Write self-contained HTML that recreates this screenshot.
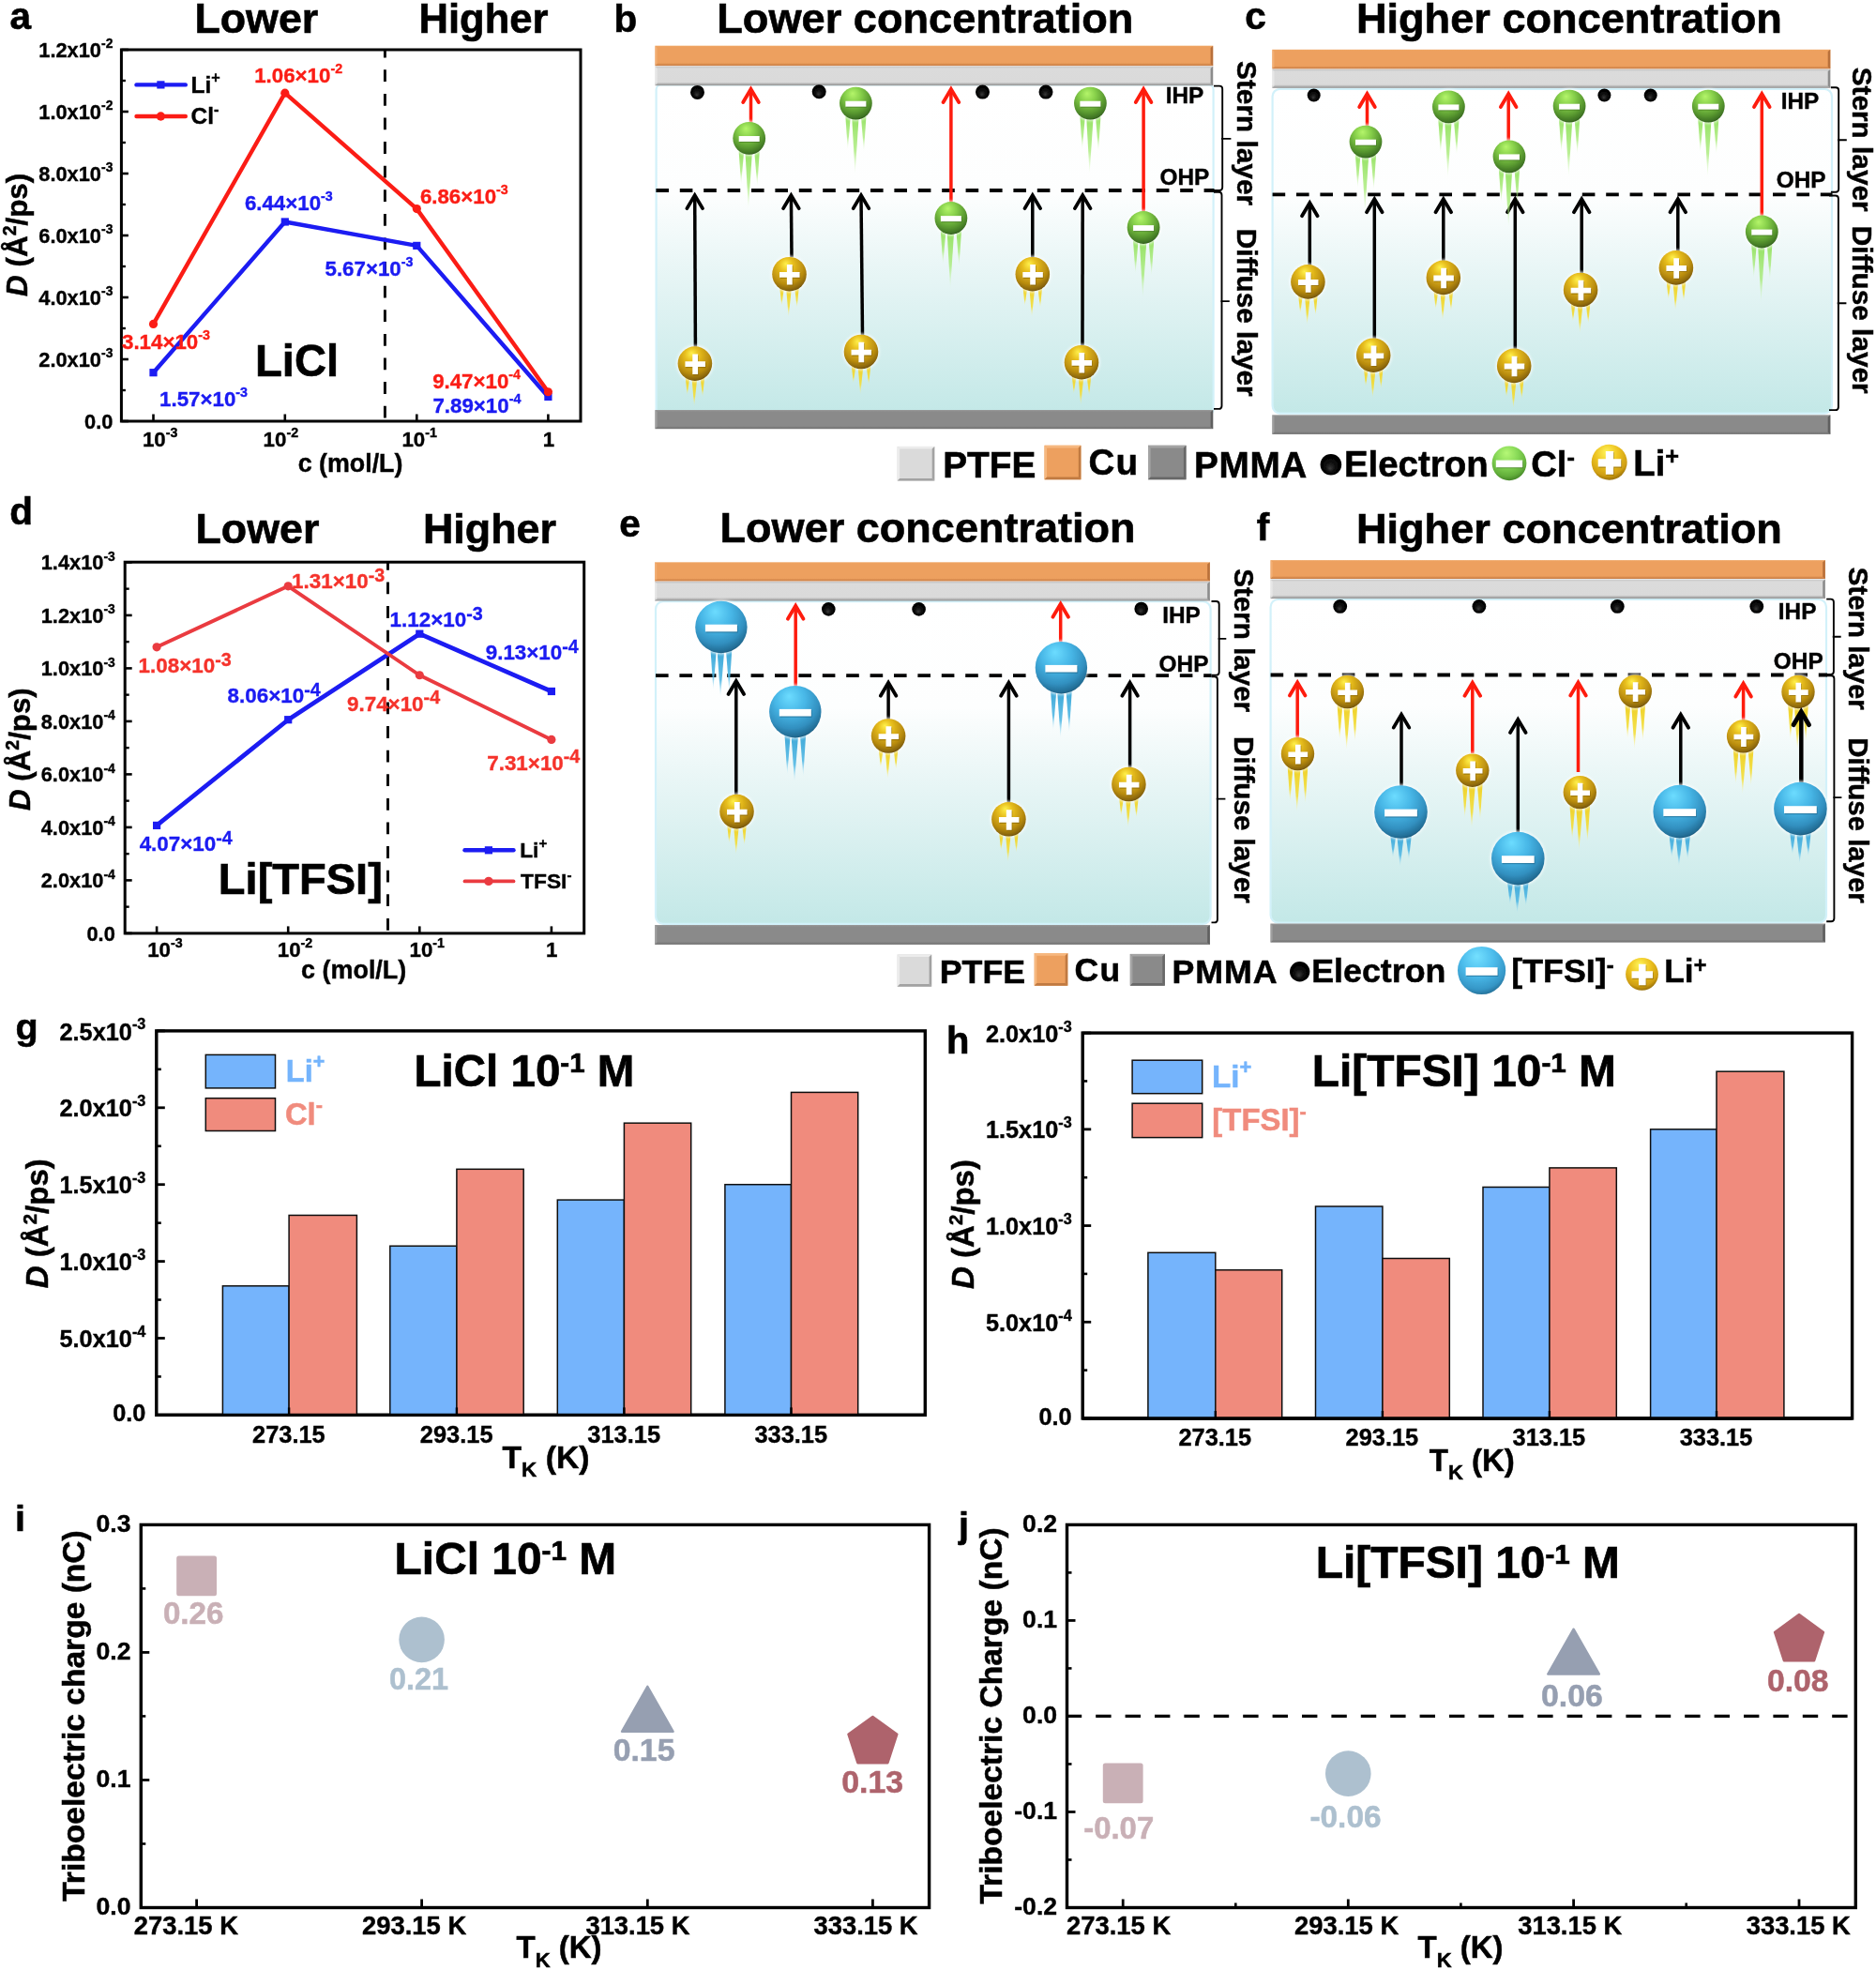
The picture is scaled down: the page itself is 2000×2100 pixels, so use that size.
<!DOCTYPE html>
<html lang="en"><head><meta charset="utf-8"><title>Figure</title>
<style>html,body{margin:0;padding:0;background:#fff;}body{width:2000px;height:2100px;overflow:hidden;}svg{display:block;}svg text{font-family:'Liberation Sans', sans-serif;font-weight:bold;}</style></head><body>
<svg width="2000" height="2100" viewBox="0 0 2000 2100">

<defs>
<radialGradient id="gG" cx="0.44" cy="0.32" r="0.72" fx="0.40" fy="0.20">
 <stop offset="0" stop-color="#b4f56a"/><stop offset="0.35" stop-color="#86cf4a"/>
 <stop offset="0.7" stop-color="#5a9a30"/><stop offset="0.9" stop-color="#3f7424"/><stop offset="1" stop-color="#264c16"/>
</radialGradient>
<radialGradient id="gY" cx="0.44" cy="0.32" r="0.72" fx="0.40" fy="0.20">
 <stop offset="0" stop-color="#fff04a"/><stop offset="0.3" stop-color="#e6bc1c"/>
 <stop offset="0.7" stop-color="#b98c10"/><stop offset="0.9" stop-color="#8a660a"/><stop offset="1" stop-color="#5c4006"/>
</radialGradient>
<radialGradient id="gB" cx="0.44" cy="0.32" r="0.74" fx="0.38" fy="0.20">
 <stop offset="0" stop-color="#6cdcff"/><stop offset="0.4" stop-color="#47b6e6"/>
 <stop offset="0.72" stop-color="#3290c0"/><stop offset="0.9" stop-color="#226c94"/><stop offset="1" stop-color="#103e58"/>
</radialGradient>
<radialGradient id="gGL" cx="0.45" cy="0.32" r="0.72" fx="0.42" fy="0.20">
 <stop offset="0" stop-color="#b6f876"/><stop offset="0.45" stop-color="#86d856"/>
 <stop offset="0.8" stop-color="#62ae3a"/><stop offset="1" stop-color="#3c7a22"/>
</radialGradient>
<radialGradient id="gYL" cx="0.45" cy="0.32" r="0.72" fx="0.42" fy="0.20">
 <stop offset="0" stop-color="#fff458"/><stop offset="0.45" stop-color="#eec422"/>
 <stop offset="0.8" stop-color="#cf9e12"/><stop offset="1" stop-color="#8a6408"/>
</radialGradient>
<radialGradient id="gBL" cx="0.45" cy="0.32" r="0.75" fx="0.40" fy="0.20">
 <stop offset="0" stop-color="#74e0ff"/><stop offset="0.45" stop-color="#4cbcec"/>
 <stop offset="0.8" stop-color="#3596c6"/><stop offset="1" stop-color="#1c5c80"/>
</radialGradient>
<radialGradient id="gE" cx="0.5" cy="0.5" r="0.5" fx="0.45" fy="0.7">
 <stop offset="0" stop-color="#3a3a3a"/><stop offset="0.5" stop-color="#0a0a0a"/><stop offset="1" stop-color="#000"/>
</radialGradient>
<linearGradient id="tG" x1="0" y1="0" x2="0" y2="1">
 <stop offset="0" stop-color="#8fe05a" stop-opacity="0.95"/><stop offset="0.6" stop-color="#a4ea72" stop-opacity="0.75"/><stop offset="1" stop-color="#c8f5a8" stop-opacity="0.05"/>
</linearGradient>
<linearGradient id="tY" x1="0" y1="0" x2="0" y2="1">
 <stop offset="0" stop-color="#efd024" stop-opacity="1"/><stop offset="0.65" stop-color="#f3de3c" stop-opacity="0.9"/><stop offset="1" stop-color="#fff080" stop-opacity="0.1"/>
</linearGradient>
<linearGradient id="tB" x1="0" y1="0" x2="0" y2="1">
 <stop offset="0" stop-color="#3aa6d6" stop-opacity="1"/><stop offset="0.65" stop-color="#52b8e4" stop-opacity="0.9"/><stop offset="1" stop-color="#9adcf6" stop-opacity="0.1"/>
</linearGradient>
<linearGradient id="liq" x1="0" y1="0" x2="0" y2="1">
 <stop offset="0" stop-color="#ffffff"/><stop offset="0.33" stop-color="#fdfefe"/>
 <stop offset="0.55" stop-color="#e9f6f6"/><stop offset="1" stop-color="#c3e8e7"/>
</linearGradient>
<linearGradient id="cu" x1="0" y1="0" x2="0" y2="1">
 <stop offset="0" stop-color="#f0a868"/><stop offset="0.08" stop-color="#eda05e"/><stop offset="0.85" stop-color="#eda05e"/><stop offset="1" stop-color="#c47840"/>
</linearGradient>
<linearGradient id="ptfe" x1="0" y1="0" x2="0" y2="1">
 <stop offset="0" stop-color="#c4c4c4"/><stop offset="0.12" stop-color="#dbdbdb"/><stop offset="0.82" stop-color="#dadada"/><stop offset="1" stop-color="#8e8e8e"/>
</linearGradient>
<linearGradient id="pmma" x1="0" y1="0" x2="0" y2="1">
 <stop offset="0" stop-color="#9a9a9a"/><stop offset="0.1" stop-color="#8a8a8a"/><stop offset="0.85" stop-color="#8a8a8a"/><stop offset="1" stop-color="#6e6e6e"/>
</linearGradient>
<filter id="halo" x="-30%" y="-30%" width="160%" height="160%"><feGaussianBlur stdDeviation="1.6"/></filter>
<filter id="soft" x="-5%" y="-5%" width="110%" height="110%"><feGaussianBlur stdDeviation="0.55"/></filter>
</defs>

<rect x="0.00" y="0.00" width="2000.00" height="2100.00" fill="#fff" />
<g filter="url(#soft)">
<g>
<text x="10.61" y="30.80" font-size="40.50" fill="#000" stroke="#000" stroke-width="0.59">a</text>
<text x="207.40" y="34.60" font-size="44.78" fill="#000" stroke="#000" stroke-width="0.64">Lower</text>
<text x="446.48" y="34.60" font-size="43.60" fill="#000" stroke="#000" stroke-width="0.62">Higher</text>
<rect x="129.40" y="53.00" width="489.60" height="396.00" fill="#fff" stroke="#000" stroke-width="3.00" />
<line x1="129.40" y1="449.00" x2="136.90" y2="449.00" stroke="#000" stroke-width="2.60"/>
<text x="120.40" y="456.90" font-size="21.80" fill="#000" stroke="#000" stroke-width="0.36" text-anchor="end">0.0</text>
<line x1="129.40" y1="416.00" x2="133.90" y2="416.00" stroke="#000" stroke-width="2.40"/>
<line x1="129.40" y1="383.00" x2="136.90" y2="383.00" stroke="#000" stroke-width="2.60"/>
<text x="120.40" y="390.90" font-size="21.80" fill="#000" stroke="#000" stroke-width="0.36" text-anchor="end">2.0x10<tspan dy="-9.59" font-size="13.95">-3</tspan></text>
<line x1="129.40" y1="350.00" x2="133.90" y2="350.00" stroke="#000" stroke-width="2.40"/>
<line x1="129.40" y1="317.00" x2="136.90" y2="317.00" stroke="#000" stroke-width="2.60"/>
<text x="120.40" y="324.90" font-size="21.80" fill="#000" stroke="#000" stroke-width="0.36" text-anchor="end">4.0x10<tspan dy="-9.59" font-size="13.95">-3</tspan></text>
<line x1="129.40" y1="284.00" x2="133.90" y2="284.00" stroke="#000" stroke-width="2.40"/>
<line x1="129.40" y1="251.00" x2="136.90" y2="251.00" stroke="#000" stroke-width="2.60"/>
<text x="120.40" y="258.90" font-size="21.80" fill="#000" stroke="#000" stroke-width="0.36" text-anchor="end">6.0x10<tspan dy="-9.59" font-size="13.95">-3</tspan></text>
<line x1="129.40" y1="218.00" x2="133.90" y2="218.00" stroke="#000" stroke-width="2.40"/>
<line x1="129.40" y1="185.00" x2="136.90" y2="185.00" stroke="#000" stroke-width="2.60"/>
<text x="120.40" y="192.90" font-size="21.80" fill="#000" stroke="#000" stroke-width="0.36" text-anchor="end">8.0x10<tspan dy="-9.59" font-size="13.95">-3</tspan></text>
<line x1="129.40" y1="152.00" x2="133.90" y2="152.00" stroke="#000" stroke-width="2.40"/>
<line x1="129.40" y1="119.00" x2="136.90" y2="119.00" stroke="#000" stroke-width="2.60"/>
<text x="120.40" y="126.90" font-size="21.80" fill="#000" stroke="#000" stroke-width="0.36" text-anchor="end">1.0x10<tspan dy="-9.59" font-size="13.95">-2</tspan></text>
<line x1="129.40" y1="86.00" x2="133.90" y2="86.00" stroke="#000" stroke-width="2.40"/>
<line x1="129.40" y1="53.00" x2="136.90" y2="53.00" stroke="#000" stroke-width="2.60"/>
<text x="120.40" y="60.90" font-size="21.80" fill="#000" stroke="#000" stroke-width="0.36" text-anchor="end">1.2x10<tspan dy="-9.59" font-size="13.95">-2</tspan></text>
<line x1="163.50" y1="449.00" x2="163.50" y2="441.50" stroke="#000" stroke-width="2.60"/>
<line x1="303.80" y1="449.00" x2="303.80" y2="441.50" stroke="#000" stroke-width="2.60"/>
<line x1="444.30" y1="449.00" x2="444.30" y2="441.50" stroke="#000" stroke-width="2.60"/>
<line x1="584.40" y1="449.00" x2="584.40" y2="441.50" stroke="#000" stroke-width="2.60"/>
<line x1="410.40" y1="53.00" x2="410.40" y2="449.00" stroke="#000" stroke-width="2.9" stroke-dasharray="12.8 12.8" stroke-dashoffset="4.3"/>
<polyline points="163.50,397.19 303.80,236.48 444.30,261.89 584.40,422.96" fill="none" stroke="#1a1af2" stroke-width="4.40" stroke-linejoin="round"/>
<rect x="159.40" y="393.09" width="8.20" height="8.20" fill="#1a1af2" />
<rect x="299.70" y="232.38" width="8.20" height="8.20" fill="#1a1af2" />
<rect x="440.20" y="257.79" width="8.20" height="8.20" fill="#1a1af2" />
<rect x="580.30" y="418.86" width="8.20" height="8.20" fill="#1a1af2" />
<polyline points="163.50,345.38 303.80,99.20 444.30,222.62 584.40,417.75" fill="none" stroke="#fb1f14" stroke-width="4.40" stroke-linejoin="round"/>
<circle cx="163.50" cy="345.38" r="4.6" fill="#fb1f14"/>
<circle cx="303.80" cy="99.20" r="4.6" fill="#fb1f14"/>
<circle cx="444.30" cy="222.62" r="4.6" fill="#fb1f14"/>
<circle cx="584.40" cy="417.75" r="4.6" fill="#fb1f14"/>
<text x="151.90" y="476.00" font-size="22.30" fill="#000" stroke="#000" stroke-width="0.37">10<tspan dy="-9.81" font-size="14.27">-3</tspan></text>
<text x="280.60" y="476.00" font-size="22.30" fill="#000" stroke="#000" stroke-width="0.37">10<tspan dy="-9.81" font-size="14.27">-2</tspan></text>
<text x="428.40" y="476.00" font-size="22.30" fill="#000" stroke="#000" stroke-width="0.37">10<tspan dy="-9.81" font-size="14.27">-1</tspan></text>
<text x="585.00" y="476.00" font-size="22.30" fill="#000" stroke="#000" stroke-width="0.37" text-anchor="middle">1</text>
<text x="317.65" y="503.20" font-size="26.83" fill="#000" stroke="#000" stroke-width="0.42">c (mol/L)</text>
<text x="28.70" y="250.30" font-size="31.40" fill="#000" stroke="#000" stroke-width="0.48" text-anchor="middle" transform="rotate(-90 28.70 250.30)"><tspan font-style="italic">D</tspan> (Å<tspan dy="-11.30" font-size="19.47">2</tspan><tspan dy="11.30">/ps)</tspan></text>
<line x1="145.50" y1="90.40" x2="197.80" y2="90.40" stroke="#1a1af2" stroke-width="4.40" stroke-linecap="round"/>
<rect x="167.30" y="86.30" width="8.20" height="8.20" fill="#1a1af2" />
<text x="203.56" y="98.60" font-size="24.50" fill="#000" stroke="#000" stroke-width="0.39">Li<tspan dy="-10.29" font-size="16.17">+</tspan></text>
<line x1="145.50" y1="124.00" x2="197.80" y2="124.00" stroke="#fb1f14" stroke-width="4.40" stroke-linecap="round"/>
<circle cx="171.4" cy="124" r="4.7" fill="#fb1f14"/>
<text x="203.60" y="132.00" font-size="24.50" fill="#000" stroke="#000" stroke-width="0.39">Cl<tspan dy="-10.29" font-size="16.17">-</tspan></text>
<text x="271.20" y="88.00" font-size="22.30" fill="#fb1f14" stroke="#fb1f14" stroke-width="0.37">1.06×10<tspan dy="-9.81" font-size="14.27">-2</tspan></text>
<text x="260.88" y="224.00" font-size="22.30" fill="#1a1af2" stroke="#1a1af2" stroke-width="0.37">6.44×10<tspan dy="-9.81" font-size="14.27">-3</tspan></text>
<text x="447.88" y="216.80" font-size="22.30" fill="#fb1f14" stroke="#fb1f14" stroke-width="0.37">6.86×10<tspan dy="-9.81" font-size="14.27">-3</tspan></text>
<text x="346.51" y="293.60" font-size="22.30" fill="#1a1af2" stroke="#1a1af2" stroke-width="0.37">5.67×10<tspan dy="-9.81" font-size="14.27">-3</tspan></text>
<text x="129.99" y="371.50" font-size="22.30" fill="#fb1f14" stroke="#fb1f14" stroke-width="0.37">3.14×10<tspan dy="-9.81" font-size="14.27">-3</tspan></text>
<text x="170.10" y="433.00" font-size="22.30" fill="#1a1af2" stroke="#1a1af2" stroke-width="0.37">1.57×10<tspan dy="-9.81" font-size="14.27">-3</tspan></text>
<text x="461.13" y="413.50" font-size="22.30" fill="#fb1f14" stroke="#fb1f14" stroke-width="0.37">9.47×10<tspan dy="-9.81" font-size="14.27">-4</tspan></text>
<text x="461.44" y="439.70" font-size="22.30" fill="#1a1af2" stroke="#1a1af2" stroke-width="0.37">7.89×10<tspan dy="-9.81" font-size="14.27">-4</tspan></text>
<text x="272.04" y="401.30" font-size="47.17" fill="#000" stroke="#000" stroke-width="0.67">LiCl</text>
</g>
<g>
<text x="10.14" y="559.20" font-size="40.50" fill="#000" stroke="#000" stroke-width="0.59">d</text>
<text x="208.50" y="579.00" font-size="44.78" fill="#000" stroke="#000" stroke-width="0.64">Lower</text>
<text x="450.90" y="579.00" font-size="44.90" fill="#000" stroke="#000" stroke-width="0.64">Higher</text>
<rect x="133.20" y="599.20" width="489.50" height="395.70" fill="#fff" stroke="#000" stroke-width="3.00" />
<line x1="133.20" y1="994.90" x2="140.70" y2="994.90" stroke="#000" stroke-width="2.60"/>
<text x="122.80" y="1002.80" font-size="21.80" fill="#000" stroke="#000" stroke-width="0.36" text-anchor="end">0.0</text>
<line x1="133.20" y1="966.65" x2="137.70" y2="966.65" stroke="#000" stroke-width="2.40"/>
<line x1="133.20" y1="938.40" x2="140.70" y2="938.40" stroke="#000" stroke-width="2.60"/>
<text x="122.80" y="946.30" font-size="21.80" fill="#000" stroke="#000" stroke-width="0.36" text-anchor="end">2.0x10<tspan dy="-9.59" font-size="13.95">-4</tspan></text>
<line x1="133.20" y1="910.15" x2="137.70" y2="910.15" stroke="#000" stroke-width="2.40"/>
<line x1="133.20" y1="881.90" x2="140.70" y2="881.90" stroke="#000" stroke-width="2.60"/>
<text x="122.80" y="889.80" font-size="21.80" fill="#000" stroke="#000" stroke-width="0.36" text-anchor="end">4.0x10<tspan dy="-9.59" font-size="13.95">-4</tspan></text>
<line x1="133.20" y1="853.65" x2="137.70" y2="853.65" stroke="#000" stroke-width="2.40"/>
<line x1="133.20" y1="825.40" x2="140.70" y2="825.40" stroke="#000" stroke-width="2.60"/>
<text x="122.80" y="833.30" font-size="21.80" fill="#000" stroke="#000" stroke-width="0.36" text-anchor="end">6.0x10<tspan dy="-9.59" font-size="13.95">-4</tspan></text>
<line x1="133.20" y1="797.15" x2="137.70" y2="797.15" stroke="#000" stroke-width="2.40"/>
<line x1="133.20" y1="768.90" x2="140.70" y2="768.90" stroke="#000" stroke-width="2.60"/>
<text x="122.80" y="776.80" font-size="21.80" fill="#000" stroke="#000" stroke-width="0.36" text-anchor="end">8.0x10<tspan dy="-9.59" font-size="13.95">-4</tspan></text>
<line x1="133.20" y1="740.65" x2="137.70" y2="740.65" stroke="#000" stroke-width="2.40"/>
<line x1="133.20" y1="712.40" x2="140.70" y2="712.40" stroke="#000" stroke-width="2.60"/>
<text x="122.80" y="720.30" font-size="21.80" fill="#000" stroke="#000" stroke-width="0.36" text-anchor="end">1.0x10<tspan dy="-9.59" font-size="13.95">-3</tspan></text>
<line x1="133.20" y1="684.15" x2="137.70" y2="684.15" stroke="#000" stroke-width="2.40"/>
<line x1="133.20" y1="655.90" x2="140.70" y2="655.90" stroke="#000" stroke-width="2.60"/>
<text x="122.80" y="663.80" font-size="21.80" fill="#000" stroke="#000" stroke-width="0.36" text-anchor="end">1.2x10<tspan dy="-9.59" font-size="13.95">-3</tspan></text>
<line x1="133.20" y1="627.65" x2="137.70" y2="627.65" stroke="#000" stroke-width="2.40"/>
<line x1="133.20" y1="599.40" x2="140.70" y2="599.40" stroke="#000" stroke-width="2.60"/>
<text x="122.80" y="607.30" font-size="21.80" fill="#000" stroke="#000" stroke-width="0.36" text-anchor="end">1.4x10<tspan dy="-9.59" font-size="13.95">-3</tspan></text>
<line x1="167.10" y1="994.90" x2="167.10" y2="987.40" stroke="#000" stroke-width="2.60"/>
<line x1="307.20" y1="994.90" x2="307.20" y2="987.40" stroke="#000" stroke-width="2.60"/>
<line x1="447.30" y1="994.90" x2="447.30" y2="987.40" stroke="#000" stroke-width="2.60"/>
<line x1="587.90" y1="994.90" x2="587.90" y2="987.40" stroke="#000" stroke-width="2.60"/>
<line x1="413.50" y1="599.20" x2="413.50" y2="994.90" stroke="#000" stroke-width="2.9" stroke-dasharray="12.8 12.8" stroke-dashoffset="4.3"/>
<polyline points="167.10,879.92 307.20,767.21 447.30,675.67 587.90,736.98" fill="none" stroke="#1a1af2" stroke-width="4.70" stroke-linejoin="round"/>
<rect x="163.00" y="875.82" width="8.20" height="8.20" fill="#1a1af2" />
<rect x="303.10" y="763.11" width="8.20" height="8.20" fill="#1a1af2" />
<rect x="443.20" y="671.57" width="8.20" height="8.20" fill="#1a1af2" />
<rect x="583.80" y="732.88" width="8.20" height="8.20" fill="#1a1af2" />
<polyline points="167.10,689.80 307.20,624.83 447.30,719.74 587.90,788.39" fill="none" stroke="#ea3a40" stroke-width="3.90" stroke-linejoin="round"/>
<circle cx="167.10" cy="689.80" r="4.6" fill="#ea3a40"/>
<circle cx="307.20" cy="624.83" r="4.6" fill="#ea3a40"/>
<circle cx="447.30" cy="719.74" r="4.6" fill="#ea3a40"/>
<circle cx="587.90" cy="788.39" r="4.6" fill="#ea3a40"/>
<text x="157.20" y="1019.60" font-size="22.30" fill="#000" stroke="#000" stroke-width="0.37">10<tspan dy="-9.81" font-size="14.27">-3</tspan></text>
<text x="295.80" y="1019.60" font-size="22.30" fill="#000" stroke="#000" stroke-width="0.37">10<tspan dy="-9.81" font-size="14.27">-2</tspan></text>
<text x="436.50" y="1019.60" font-size="22.30" fill="#000" stroke="#000" stroke-width="0.37">10<tspan dy="-9.81" font-size="14.27">-1</tspan></text>
<text x="588.30" y="1019.60" font-size="22.30" fill="#000" stroke="#000" stroke-width="0.37" text-anchor="middle">1</text>
<text x="321.05" y="1043.10" font-size="26.95" fill="#000" stroke="#000" stroke-width="0.42">c (mol/L)</text>
<text x="31.60" y="798.60" font-size="31.30" fill="#000" stroke="#000" stroke-width="0.48" text-anchor="middle" transform="rotate(-90 31.60 798.60)"><tspan font-style="italic">D</tspan> (Å<tspan dy="-11.27" font-size="19.41">2</tspan><tspan dy="11.27">/ps)</tspan></text>
<line x1="495.50" y1="906.30" x2="547.50" y2="906.30" stroke="#1a1af2" stroke-width="4.40" stroke-linecap="round"/>
<rect x="516.80" y="902.20" width="8.20" height="8.20" fill="#1a1af2" />
<text x="554.17" y="913.70" font-size="22.80" fill="#000" stroke="#000" stroke-width="0.37">Li<tspan dy="-9.58" font-size="15.05">+</tspan></text>
<line x1="495.50" y1="939.40" x2="547.50" y2="939.40" stroke="#ea3a40" stroke-width="3.80" stroke-linecap="round"/>
<circle cx="520.9" cy="939.4" r="4.7" fill="#ea3a40"/>
<text x="555.04" y="947.40" font-size="22.80" fill="#000" stroke="#000" stroke-width="0.37">TFSI<tspan dy="-9.58" font-size="15.05">-</tspan></text>
<text x="147.59" y="716.90" font-size="22.40" fill="#f5332c" stroke="#f5332c" stroke-width="0.37">1.08×10<tspan dy="-7.39" font-size="19.71">-3</tspan></text>
<text x="311.09" y="627.20" font-size="22.40" fill="#f5332c" stroke="#f5332c" stroke-width="0.37">1.31×10<tspan dy="-7.39" font-size="19.71">-3</tspan></text>
<text x="415.59" y="667.90" font-size="22.40" fill="#1a1af2" stroke="#1a1af2" stroke-width="0.37">1.12×10<tspan dy="-7.39" font-size="19.71">-3</tspan></text>
<text x="517.72" y="703.30" font-size="22.40" fill="#1a1af2" stroke="#1a1af2" stroke-width="0.37">9.13×10<tspan dy="-7.39" font-size="19.71">-4</tspan></text>
<text x="242.59" y="749.30" font-size="22.40" fill="#1a1af2" stroke="#1a1af2" stroke-width="0.37">8.06×10<tspan dy="-7.39" font-size="19.71">-4</tspan></text>
<text x="370.02" y="757.60" font-size="22.40" fill="#f5332c" stroke="#f5332c" stroke-width="0.37">9.74×10<tspan dy="-7.39" font-size="19.71">-4</tspan></text>
<text x="519.24" y="820.70" font-size="22.40" fill="#f5332c" stroke="#f5332c" stroke-width="0.37">7.31×10<tspan dy="-7.39" font-size="19.71">-4</tspan></text>
<text x="148.66" y="907.20" font-size="22.40" fill="#1a1af2" stroke="#1a1af2" stroke-width="0.37">4.07×10<tspan dy="-7.39" font-size="19.71">-4</tspan></text>
<text x="232.85" y="952.50" font-size="47.02" fill="#000" stroke="#000" stroke-width="0.66">Li[TFSI]</text>
</g>
<g>
<text x="654.53" y="33.50" font-size="40.50" fill="#000" stroke="#000" stroke-width="0.59">b</text>
<text x="764.28" y="35.30" font-size="45.16" fill="#000" stroke="#000" stroke-width="0.64">Lower concentration</text>
<rect x="699.60" y="90.50" width="594.00" height="351.00" fill="url(#liq)" stroke="#d2f1fa" stroke-width="2.20" rx="5.00" />
<rect x="698.40" y="48.70" width="594.80" height="21.50" fill="url(#cu)" />
<rect x="698.40" y="70.70" width="594.80" height="20.50" fill="url(#ptfe)" />
<rect x="698.40" y="437.00" width="594.80" height="20.20" fill="url(#pmma)" />
<polygon points="1293.20,48.70 1293.20,70.20 1290.60,68.00 1290.60,50.90" fill="#b8703a"/>
<polygon points="698.40,48.70 698.40,70.20 700.60,68.00 700.60,50.90" fill="#f4b47c" opacity="0.7"/>
<polygon points="1293.20,70.70 1293.20,91.20 1290.60,89.00 1290.60,72.90" fill="#8c8c8c"/>
<polygon points="698.40,70.70 698.40,91.20 700.60,89.00 700.60,72.90" fill="#ececec" opacity="0.7"/>
<polygon points="1293.20,437.00 1293.20,457.20 1290.60,455.00 1290.60,439.20" fill="#5e5e5e"/>
<polygon points="698.40,437.00 698.40,457.20 700.60,455.00 700.60,439.20" fill="#a8a8a8" opacity="0.7"/>
<line x1="699.40" y1="203.00" x2="1294.50" y2="203.00" stroke="#000" stroke-width="3.80" stroke-dasharray="13.6 11.8"/>
<circle cx="743.50" cy="98.40" r="7.50" fill="url(#gE)"/>
<circle cx="873.20" cy="97.80" r="7.50" fill="url(#gE)"/>
<circle cx="1047.50" cy="98.10" r="7.50" fill="url(#gE)"/>
<circle cx="1115.00" cy="98.10" r="7.50" fill="url(#gE)"/>
<line x1="800.50" y1="132.00" x2="800.50" y2="96.03" stroke="#fe1a0e" stroke-width="3.50"/>
<polyline points="792.20,109.03 800.50,95.03 808.80,109.03" fill="none" stroke="#fe1a0e" stroke-width="3.80" stroke-linecap="round" stroke-linejoin="miter" stroke-miterlimit="10"/>
<line x1="1013.90" y1="217.00" x2="1013.90" y2="96.03" stroke="#fe1a0e" stroke-width="3.50"/>
<polyline points="1005.60,109.03 1013.90,95.03 1022.20,109.03" fill="none" stroke="#fe1a0e" stroke-width="3.80" stroke-linecap="round" stroke-linejoin="miter" stroke-miterlimit="10"/>
<line x1="1219.10" y1="227.00" x2="1219.10" y2="96.03" stroke="#fe1a0e" stroke-width="3.50"/>
<polyline points="1210.80,109.03 1219.10,95.03 1227.40,109.03" fill="none" stroke="#fe1a0e" stroke-width="3.80" stroke-linecap="round" stroke-linejoin="miter" stroke-miterlimit="10"/>
<line x1="741.40" y1="370.00" x2="740.70" y2="209.13" stroke="#000" stroke-width="3.50"/>
<polyline points="732.40,222.13 740.70,208.13 749.00,222.13" fill="none" stroke="#000" stroke-width="3.80" stroke-linecap="round" stroke-linejoin="miter" stroke-miterlimit="10"/>
<line x1="844.00" y1="274.00" x2="843.40" y2="209.13" stroke="#000" stroke-width="3.50"/>
<polyline points="835.10,222.13 843.40,208.13 851.70,222.13" fill="none" stroke="#000" stroke-width="3.80" stroke-linecap="round" stroke-linejoin="miter" stroke-miterlimit="10"/>
<line x1="919.50" y1="357.00" x2="918.00" y2="209.13" stroke="#000" stroke-width="3.50"/>
<polyline points="909.70,222.13 918.00,208.13 926.30,222.13" fill="none" stroke="#000" stroke-width="3.80" stroke-linecap="round" stroke-linejoin="miter" stroke-miterlimit="10"/>
<line x1="1100.80" y1="274.00" x2="1100.80" y2="209.13" stroke="#000" stroke-width="3.50"/>
<polyline points="1092.50,222.13 1100.80,208.13 1109.10,222.13" fill="none" stroke="#000" stroke-width="3.80" stroke-linecap="round" stroke-linejoin="miter" stroke-miterlimit="10"/>
<line x1="1154.00" y1="368.00" x2="1154.20" y2="209.13" stroke="#000" stroke-width="3.50"/>
<polyline points="1145.90,222.13 1154.20,208.13 1162.50,222.13" fill="none" stroke="#000" stroke-width="3.80" stroke-linecap="round" stroke-linejoin="miter" stroke-miterlimit="10"/>
<polygon points="787.65,161.32 793.15,161.32 790.10,196.80" fill="url(#tG)"/>
<polygon points="804.25,161.32 809.75,161.32 807.30,198.80" fill="url(#tG)"/>
<polygon points="794.45,161.32 801.95,161.32 797.90,222.80" fill="url(#tG)"/>
<circle cx="798.70" cy="147.40" r="18.60" fill="#fff" opacity="0.8" filter="url(#halo)"/>
<circle cx="798.70" cy="147.40" r="17.40" fill="url(#gG)"/>
<rect x="788.50" y="146.03" width="22.00" height="5.94" fill="#3d6a22" opacity="0.55"/>
<rect x="787.70" y="145.03" width="22.00" height="5.94" fill="#fff"/>
<polygon points="901.35,124.02 906.85,124.02 903.80,159.50" fill="url(#tG)"/>
<polygon points="917.95,124.02 923.45,124.02 921.00,161.50" fill="url(#tG)"/>
<polygon points="908.15,124.02 915.65,124.02 911.60,185.50" fill="url(#tG)"/>
<circle cx="912.40" cy="110.10" r="18.60" fill="#fff" opacity="0.8" filter="url(#halo)"/>
<circle cx="912.40" cy="110.10" r="17.40" fill="url(#gG)"/>
<rect x="902.20" y="108.73" width="22.00" height="5.94" fill="#3d6a22" opacity="0.55"/>
<rect x="901.40" y="107.73" width="22.00" height="5.94" fill="#fff"/>
<polygon points="1002.85,246.42 1008.35,246.42 1005.30,281.90" fill="url(#tG)"/>
<polygon points="1019.45,246.42 1024.95,246.42 1022.50,283.90" fill="url(#tG)"/>
<polygon points="1009.65,246.42 1017.15,246.42 1013.10,307.90" fill="url(#tG)"/>
<circle cx="1013.90" cy="232.50" r="18.60" fill="#fff" opacity="0.8" filter="url(#halo)"/>
<circle cx="1013.90" cy="232.50" r="17.40" fill="url(#gG)"/>
<rect x="1003.70" y="231.13" width="22.00" height="5.94" fill="#3d6a22" opacity="0.55"/>
<rect x="1002.90" y="230.13" width="22.00" height="5.94" fill="#fff"/>
<polygon points="1151.35,124.02 1156.85,124.02 1153.80,159.50" fill="url(#tG)"/>
<polygon points="1167.95,124.02 1173.45,124.02 1171.00,161.50" fill="url(#tG)"/>
<polygon points="1158.15,124.02 1165.65,124.02 1161.60,185.50" fill="url(#tG)"/>
<circle cx="1162.40" cy="110.10" r="18.60" fill="#fff" opacity="0.8" filter="url(#halo)"/>
<circle cx="1162.40" cy="110.10" r="17.40" fill="url(#gG)"/>
<rect x="1152.20" y="108.73" width="22.00" height="5.94" fill="#3d6a22" opacity="0.55"/>
<rect x="1151.40" y="107.73" width="22.00" height="5.94" fill="#fff"/>
<polygon points="1208.05,256.42 1213.55,256.42 1210.50,291.90" fill="url(#tG)"/>
<polygon points="1224.65,256.42 1230.15,256.42 1227.70,293.90" fill="url(#tG)"/>
<polygon points="1214.85,256.42 1222.35,256.42 1218.30,317.90" fill="url(#tG)"/>
<circle cx="1219.10" cy="242.50" r="18.60" fill="#fff" opacity="0.8" filter="url(#halo)"/>
<circle cx="1219.10" cy="242.50" r="17.40" fill="url(#gG)"/>
<rect x="1208.90" y="241.13" width="22.00" height="5.94" fill="#3d6a22" opacity="0.55"/>
<rect x="1208.10" y="240.13" width="22.00" height="5.94" fill="#fff"/>
<polygon points="730.70,402.24 735.30,402.24 732.70,421.40" fill="url(#tY)"/>
<polygon points="746.50,402.24 751.10,402.24 749.10,423.40" fill="url(#tY)"/>
<polygon points="737.50,402.24 743.30,402.24 740.10,433.40" fill="url(#tY)"/>
<circle cx="740.90" cy="387.60" r="19.50" fill="#fff" opacity="0.8" filter="url(#halo)"/>
<circle cx="740.90" cy="387.60" r="18.30" fill="url(#gY)"/>
<path d="M738.30 377.45 h5.80 v7.85 h7.85 v5.80 h-7.85 v7.85 h-5.80 v-7.85 h-7.85 v-5.80 h7.85 z" fill="#7a5a08" opacity="0.5" transform="translate(0.8,1.2)"/>
<path d="M738.30 377.45 h5.80 v7.85 h7.85 v5.80 h-7.85 v7.85 h-5.80 v-7.85 h-7.85 v-5.80 h7.85 z" fill="#fff"/>
<polygon points="831.30,306.84 835.90,306.84 833.30,326.00" fill="url(#tY)"/>
<polygon points="847.10,306.84 851.70,306.84 849.70,328.00" fill="url(#tY)"/>
<polygon points="838.10,306.84 843.90,306.84 840.70,338.00" fill="url(#tY)"/>
<circle cx="841.50" cy="292.20" r="19.50" fill="#fff" opacity="0.8" filter="url(#halo)"/>
<circle cx="841.50" cy="292.20" r="18.30" fill="url(#gY)"/>
<path d="M838.90 282.05 h5.80 v7.85 h7.85 v5.80 h-7.85 v7.85 h-5.80 v-7.85 h-7.85 v-5.80 h7.85 z" fill="#7a5a08" opacity="0.5" transform="translate(0.8,1.2)"/>
<path d="M838.90 282.05 h5.80 v7.85 h7.85 v5.80 h-7.85 v7.85 h-5.80 v-7.85 h-7.85 v-5.80 h7.85 z" fill="#fff"/>
<polygon points="907.80,389.64 912.40,389.64 909.80,408.80" fill="url(#tY)"/>
<polygon points="923.60,389.64 928.20,389.64 926.20,410.80" fill="url(#tY)"/>
<polygon points="914.60,389.64 920.40,389.64 917.20,420.80" fill="url(#tY)"/>
<circle cx="918.00" cy="375.00" r="19.50" fill="#fff" opacity="0.8" filter="url(#halo)"/>
<circle cx="918.00" cy="375.00" r="18.30" fill="url(#gY)"/>
<path d="M915.40 364.85 h5.80 v7.85 h7.85 v5.80 h-7.85 v7.85 h-5.80 v-7.85 h-7.85 v-5.80 h7.85 z" fill="#7a5a08" opacity="0.5" transform="translate(0.8,1.2)"/>
<path d="M915.40 364.85 h5.80 v7.85 h7.85 v5.80 h-7.85 v7.85 h-5.80 v-7.85 h-7.85 v-5.80 h7.85 z" fill="#fff"/>
<polygon points="1090.60,306.84 1095.20,306.84 1092.60,326.00" fill="url(#tY)"/>
<polygon points="1106.40,306.84 1111.00,306.84 1109.00,328.00" fill="url(#tY)"/>
<polygon points="1097.40,306.84 1103.20,306.84 1100.00,338.00" fill="url(#tY)"/>
<circle cx="1100.80" cy="292.20" r="19.50" fill="#fff" opacity="0.8" filter="url(#halo)"/>
<circle cx="1100.80" cy="292.20" r="18.30" fill="url(#gY)"/>
<path d="M1098.20 282.05 h5.80 v7.85 h7.85 v5.80 h-7.85 v7.85 h-5.80 v-7.85 h-7.85 v-5.80 h7.85 z" fill="#7a5a08" opacity="0.5" transform="translate(0.8,1.2)"/>
<path d="M1098.20 282.05 h5.80 v7.85 h7.85 v5.80 h-7.85 v7.85 h-5.80 v-7.85 h-7.85 v-5.80 h7.85 z" fill="#fff"/>
<polygon points="1142.80,400.84 1147.40,400.84 1144.80,420.00" fill="url(#tY)"/>
<polygon points="1158.60,400.84 1163.20,400.84 1161.20,422.00" fill="url(#tY)"/>
<polygon points="1149.60,400.84 1155.40,400.84 1152.20,432.00" fill="url(#tY)"/>
<circle cx="1153.00" cy="386.20" r="19.50" fill="#fff" opacity="0.8" filter="url(#halo)"/>
<circle cx="1153.00" cy="386.20" r="18.30" fill="url(#gY)"/>
<path d="M1150.40 376.05 h5.80 v7.85 h7.85 v5.80 h-7.85 v7.85 h-5.80 v-7.85 h-7.85 v-5.80 h7.85 z" fill="#7a5a08" opacity="0.5" transform="translate(0.8,1.2)"/>
<path d="M1150.40 376.05 h5.80 v7.85 h7.85 v5.80 h-7.85 v7.85 h-5.80 v-7.85 h-7.85 v-5.80 h7.85 z" fill="#fff"/>
<text x="1242.67" y="110.40" font-size="24.40" fill="#000" stroke="#000" stroke-width="0.39">IHP</text>
<text x="1236.50" y="196.60" font-size="24.40" fill="#000" stroke="#000" stroke-width="0.39">OHP</text>
<path d="M1294.00 91.60 H1300.00 Q1303.20 91.60 1303.20 94.80 V199.80 Q1303.20 203.00 1300.00 203.00 H1294.00 M1302.00 147.90 H1312.40" fill="none" stroke="#000" stroke-width="1.9"/>
<path d="M1294.00 204.80 H1299.30 Q1302.50 204.80 1302.50 208.00 V432.70 Q1302.50 435.90 1299.30 435.90 H1294.00 M1301.30 321.10 H1310.80" fill="none" stroke="#000" stroke-width="1.9"/>
<text x="1318.90" y="65.06" font-size="29.80" fill="#000" stroke="#000" stroke-width="0.45" transform="rotate(90 1318.90 65.06)">Stern layer</text>
<text x="1318.90" y="243.86" font-size="29.80" fill="#000" stroke="#000" stroke-width="0.45" transform="rotate(90 1318.90 243.86)">Diffuse layer</text>
</g>
<g>
<text x="1327.32" y="31.00" font-size="40.50" fill="#000" stroke="#000" stroke-width="0.59">c</text>
<text x="1445.88" y="35.20" font-size="45.15" fill="#000" stroke="#000" stroke-width="0.64">Higher concentration</text>
<rect x="1356.60" y="94.80" width="596.40" height="345.80" fill="url(#liq)" stroke="#d2f1fa" stroke-width="2.20" rx="8.00" />
<rect x="1356.30" y="52.80" width="595.00" height="20.60" fill="url(#cu)" />
<rect x="1356.30" y="73.90" width="595.00" height="19.90" fill="url(#ptfe)" />
<rect x="1356.30" y="442.30" width="595.00" height="20.60" fill="url(#pmma)" />
<polygon points="1951.30,52.80 1951.30,73.40 1948.70,71.20 1948.70,55.00" fill="#b8703a"/>
<polygon points="1356.30,52.80 1356.30,73.40 1358.50,71.20 1358.50,55.00" fill="#f4b47c" opacity="0.7"/>
<polygon points="1951.30,73.90 1951.30,93.80 1948.70,91.60 1948.70,76.10" fill="#8c8c8c"/>
<polygon points="1356.30,73.90 1356.30,93.80 1358.50,91.60 1358.50,76.10" fill="#ececec" opacity="0.7"/>
<polygon points="1951.30,442.30 1951.30,462.90 1948.70,460.70 1948.70,444.50" fill="#5e5e5e"/>
<polygon points="1356.30,442.30 1356.30,462.90 1358.50,460.70 1358.50,444.50" fill="#a8a8a8" opacity="0.7"/>
<line x1="1356.60" y1="207.40" x2="1953.50" y2="207.40" stroke="#000" stroke-width="3.80" stroke-dasharray="13.6 11.8"/>
<circle cx="1400.70" cy="101.50" r="7.00" fill="url(#gE)"/>
<circle cx="1710.40" cy="101.50" r="7.00" fill="url(#gE)"/>
<circle cx="1759.70" cy="101.50" r="7.00" fill="url(#gE)"/>
<line x1="1457.50" y1="136.00" x2="1457.50" y2="101.03" stroke="#fe1a0e" stroke-width="3.50"/>
<polyline points="1449.20,114.03 1457.50,100.03 1465.80,114.03" fill="none" stroke="#fe1a0e" stroke-width="3.80" stroke-linecap="round" stroke-linejoin="miter" stroke-miterlimit="10"/>
<line x1="1608.20" y1="151.00" x2="1608.20" y2="101.03" stroke="#fe1a0e" stroke-width="3.50"/>
<polyline points="1599.90,114.03 1608.20,100.03 1616.50,114.03" fill="none" stroke="#fe1a0e" stroke-width="3.80" stroke-linecap="round" stroke-linejoin="miter" stroke-miterlimit="10"/>
<line x1="1878.30" y1="231.00" x2="1878.30" y2="101.03" stroke="#fe1a0e" stroke-width="3.50"/>
<polyline points="1870.00,114.03 1878.30,100.03 1886.60,114.03" fill="none" stroke="#fe1a0e" stroke-width="3.80" stroke-linecap="round" stroke-linejoin="miter" stroke-miterlimit="10"/>
<line x1="1396.30" y1="284.00" x2="1396.30" y2="217.23" stroke="#000" stroke-width="3.50"/>
<polyline points="1388.00,230.23 1396.30,216.23 1404.60,230.23" fill="none" stroke="#000" stroke-width="3.80" stroke-linecap="round" stroke-linejoin="miter" stroke-miterlimit="10"/>
<line x1="1465.30" y1="362.00" x2="1465.30" y2="213.23" stroke="#000" stroke-width="3.50"/>
<polyline points="1457.00,226.23 1465.30,212.23 1473.60,226.23" fill="none" stroke="#000" stroke-width="3.80" stroke-linecap="round" stroke-linejoin="miter" stroke-miterlimit="10"/>
<line x1="1538.80" y1="280.00" x2="1538.80" y2="213.23" stroke="#000" stroke-width="3.50"/>
<polyline points="1530.50,226.23 1538.80,212.23 1547.10,226.23" fill="none" stroke="#000" stroke-width="3.80" stroke-linecap="round" stroke-linejoin="miter" stroke-miterlimit="10"/>
<line x1="1615.30" y1="373.00" x2="1615.30" y2="213.23" stroke="#000" stroke-width="3.50"/>
<polyline points="1607.00,226.23 1615.30,212.23 1623.60,226.23" fill="none" stroke="#000" stroke-width="3.80" stroke-linecap="round" stroke-linejoin="miter" stroke-miterlimit="10"/>
<line x1="1686.20" y1="292.00" x2="1686.20" y2="213.23" stroke="#000" stroke-width="3.50"/>
<polyline points="1677.90,226.23 1686.20,212.23 1694.50,226.23" fill="none" stroke="#000" stroke-width="3.80" stroke-linecap="round" stroke-linejoin="miter" stroke-miterlimit="10"/>
<line x1="1788.80" y1="268.00" x2="1788.80" y2="213.23" stroke="#000" stroke-width="3.50"/>
<polyline points="1780.50,226.23 1788.80,212.23 1797.10,226.23" fill="none" stroke="#000" stroke-width="3.80" stroke-linecap="round" stroke-linejoin="miter" stroke-miterlimit="10"/>
<polygon points="1444.95,165.02 1450.45,165.02 1447.40,200.50" fill="url(#tG)"/>
<polygon points="1461.55,165.02 1467.05,165.02 1464.60,202.50" fill="url(#tG)"/>
<polygon points="1451.75,165.02 1459.25,165.02 1455.20,226.50" fill="url(#tG)"/>
<circle cx="1456.00" cy="151.10" r="18.60" fill="#fff" opacity="0.8" filter="url(#halo)"/>
<circle cx="1456.00" cy="151.10" r="17.40" fill="url(#gG)"/>
<rect x="1445.80" y="149.73" width="22.00" height="5.94" fill="#3d6a22" opacity="0.55"/>
<rect x="1445.00" y="148.73" width="22.00" height="5.94" fill="#fff"/>
<polygon points="1533.35,127.72 1538.85,127.72 1535.80,163.20" fill="url(#tG)"/>
<polygon points="1549.95,127.72 1555.45,127.72 1553.00,165.20" fill="url(#tG)"/>
<polygon points="1540.15,127.72 1547.65,127.72 1543.60,189.20" fill="url(#tG)"/>
<circle cx="1544.40" cy="113.80" r="18.60" fill="#fff" opacity="0.8" filter="url(#halo)"/>
<circle cx="1544.40" cy="113.80" r="17.40" fill="url(#gG)"/>
<rect x="1534.20" y="112.43" width="22.00" height="5.94" fill="#3d6a22" opacity="0.55"/>
<rect x="1533.40" y="111.43" width="22.00" height="5.94" fill="#fff"/>
<polygon points="1597.95,180.72 1603.45,180.72 1600.40,216.20" fill="url(#tG)"/>
<polygon points="1614.55,180.72 1620.05,180.72 1617.60,218.20" fill="url(#tG)"/>
<polygon points="1604.75,180.72 1612.25,180.72 1608.20,242.20" fill="url(#tG)"/>
<circle cx="1609.00" cy="166.80" r="18.60" fill="#fff" opacity="0.8" filter="url(#halo)"/>
<circle cx="1609.00" cy="166.80" r="17.40" fill="url(#gG)"/>
<rect x="1598.80" y="165.43" width="22.00" height="5.94" fill="#3d6a22" opacity="0.55"/>
<rect x="1598.00" y="164.43" width="22.00" height="5.94" fill="#fff"/>
<polygon points="1662.05,127.02 1667.55,127.02 1664.50,162.50" fill="url(#tG)"/>
<polygon points="1678.65,127.02 1684.15,127.02 1681.70,164.50" fill="url(#tG)"/>
<polygon points="1668.85,127.02 1676.35,127.02 1672.30,188.50" fill="url(#tG)"/>
<circle cx="1673.10" cy="113.10" r="18.60" fill="#fff" opacity="0.8" filter="url(#halo)"/>
<circle cx="1673.10" cy="113.10" r="17.40" fill="url(#gG)"/>
<rect x="1662.90" y="111.73" width="22.00" height="5.94" fill="#3d6a22" opacity="0.55"/>
<rect x="1662.10" y="110.73" width="22.00" height="5.94" fill="#fff"/>
<polygon points="1810.25,127.02 1815.75,127.02 1812.70,162.50" fill="url(#tG)"/>
<polygon points="1826.85,127.02 1832.35,127.02 1829.90,164.50" fill="url(#tG)"/>
<polygon points="1817.05,127.02 1824.55,127.02 1820.50,188.50" fill="url(#tG)"/>
<circle cx="1821.30" cy="113.10" r="18.60" fill="#fff" opacity="0.8" filter="url(#halo)"/>
<circle cx="1821.30" cy="113.10" r="17.40" fill="url(#gG)"/>
<rect x="1811.10" y="111.73" width="22.00" height="5.94" fill="#3d6a22" opacity="0.55"/>
<rect x="1810.30" y="110.73" width="22.00" height="5.94" fill="#fff"/>
<polygon points="1867.25,260.92 1872.75,260.92 1869.70,296.40" fill="url(#tG)"/>
<polygon points="1883.85,260.92 1889.35,260.92 1886.90,298.40" fill="url(#tG)"/>
<polygon points="1874.05,260.92 1881.55,260.92 1877.50,322.40" fill="url(#tG)"/>
<circle cx="1878.30" cy="247.00" r="18.60" fill="#fff" opacity="0.8" filter="url(#halo)"/>
<circle cx="1878.30" cy="247.00" r="17.40" fill="url(#gG)"/>
<rect x="1868.10" y="245.63" width="22.00" height="5.94" fill="#3d6a22" opacity="0.55"/>
<rect x="1867.30" y="244.63" width="22.00" height="5.94" fill="#fff"/>
<polygon points="1384.20,315.04 1388.80,315.04 1386.20,334.20" fill="url(#tY)"/>
<polygon points="1400.00,315.04 1404.60,315.04 1402.60,336.20" fill="url(#tY)"/>
<polygon points="1391.00,315.04 1396.80,315.04 1393.60,346.20" fill="url(#tY)"/>
<circle cx="1394.40" cy="300.40" r="19.50" fill="#fff" opacity="0.8" filter="url(#halo)"/>
<circle cx="1394.40" cy="300.40" r="18.30" fill="url(#gY)"/>
<path d="M1391.80 290.25 h5.80 v7.85 h7.85 v5.80 h-7.85 v7.85 h-5.80 v-7.85 h-7.85 v-5.80 h7.85 z" fill="#7a5a08" opacity="0.5" transform="translate(0.8,1.2)"/>
<path d="M1391.80 290.25 h5.80 v7.85 h7.85 v5.80 h-7.85 v7.85 h-5.80 v-7.85 h-7.85 v-5.80 h7.85 z" fill="#fff"/>
<polygon points="1454.00,393.34 1458.60,393.34 1456.00,412.50" fill="url(#tY)"/>
<polygon points="1469.80,393.34 1474.40,393.34 1472.40,414.50" fill="url(#tY)"/>
<polygon points="1460.80,393.34 1466.60,393.34 1463.40,424.50" fill="url(#tY)"/>
<circle cx="1464.20" cy="378.70" r="19.50" fill="#fff" opacity="0.8" filter="url(#halo)"/>
<circle cx="1464.20" cy="378.70" r="18.30" fill="url(#gY)"/>
<path d="M1461.60 368.55 h5.80 v7.85 h7.85 v5.80 h-7.85 v7.85 h-5.80 v-7.85 h-7.85 v-5.80 h7.85 z" fill="#7a5a08" opacity="0.5" transform="translate(0.8,1.2)"/>
<path d="M1461.60 368.55 h5.80 v7.85 h7.85 v5.80 h-7.85 v7.85 h-5.80 v-7.85 h-7.85 v-5.80 h7.85 z" fill="#fff"/>
<polygon points="1528.60,310.54 1533.20,310.54 1530.60,329.70" fill="url(#tY)"/>
<polygon points="1544.40,310.54 1549.00,310.54 1547.00,331.70" fill="url(#tY)"/>
<polygon points="1535.40,310.54 1541.20,310.54 1538.00,341.70" fill="url(#tY)"/>
<circle cx="1538.80" cy="295.90" r="19.50" fill="#fff" opacity="0.8" filter="url(#halo)"/>
<circle cx="1538.80" cy="295.90" r="18.30" fill="url(#gY)"/>
<path d="M1536.20 285.75 h5.80 v7.85 h7.85 v5.80 h-7.85 v7.85 h-5.80 v-7.85 h-7.85 v-5.80 h7.85 z" fill="#7a5a08" opacity="0.5" transform="translate(0.8,1.2)"/>
<path d="M1536.20 285.75 h5.80 v7.85 h7.85 v5.80 h-7.85 v7.85 h-5.80 v-7.85 h-7.85 v-5.80 h7.85 z" fill="#fff"/>
<polygon points="1604.00,404.54 1608.60,404.54 1606.00,423.70" fill="url(#tY)"/>
<polygon points="1619.80,404.54 1624.40,404.54 1622.40,425.70" fill="url(#tY)"/>
<polygon points="1610.80,404.54 1616.60,404.54 1613.40,435.70" fill="url(#tY)"/>
<circle cx="1614.20" cy="389.90" r="19.50" fill="#fff" opacity="0.8" filter="url(#halo)"/>
<circle cx="1614.20" cy="389.90" r="18.30" fill="url(#gY)"/>
<path d="M1611.60 379.75 h5.80 v7.85 h7.85 v5.80 h-7.85 v7.85 h-5.80 v-7.85 h-7.85 v-5.80 h7.85 z" fill="#7a5a08" opacity="0.5" transform="translate(0.8,1.2)"/>
<path d="M1611.60 379.75 h5.80 v7.85 h7.85 v5.80 h-7.85 v7.85 h-5.80 v-7.85 h-7.85 v-5.80 h7.85 z" fill="#fff"/>
<polygon points="1674.90,323.64 1679.50,323.64 1676.90,342.80" fill="url(#tY)"/>
<polygon points="1690.70,323.64 1695.30,323.64 1693.30,344.80" fill="url(#tY)"/>
<polygon points="1681.70,323.64 1687.50,323.64 1684.30,354.80" fill="url(#tY)"/>
<circle cx="1685.10" cy="309.00" r="19.50" fill="#fff" opacity="0.8" filter="url(#halo)"/>
<circle cx="1685.10" cy="309.00" r="18.30" fill="url(#gY)"/>
<path d="M1682.50 298.85 h5.80 v7.85 h7.85 v5.80 h-7.85 v7.85 h-5.80 v-7.85 h-7.85 v-5.80 h7.85 z" fill="#7a5a08" opacity="0.5" transform="translate(0.8,1.2)"/>
<path d="M1682.50 298.85 h5.80 v7.85 h7.85 v5.80 h-7.85 v7.85 h-5.80 v-7.85 h-7.85 v-5.80 h7.85 z" fill="#fff"/>
<polygon points="1776.70,300.04 1781.30,300.04 1778.70,319.20" fill="url(#tY)"/>
<polygon points="1792.50,300.04 1797.10,300.04 1795.10,321.20" fill="url(#tY)"/>
<polygon points="1783.50,300.04 1789.30,300.04 1786.10,331.20" fill="url(#tY)"/>
<circle cx="1786.90" cy="285.40" r="19.50" fill="#fff" opacity="0.8" filter="url(#halo)"/>
<circle cx="1786.90" cy="285.40" r="18.30" fill="url(#gY)"/>
<path d="M1784.30 275.25 h5.80 v7.85 h7.85 v5.80 h-7.85 v7.85 h-5.80 v-7.85 h-7.85 v-5.80 h7.85 z" fill="#7a5a08" opacity="0.5" transform="translate(0.8,1.2)"/>
<path d="M1784.30 275.25 h5.80 v7.85 h7.85 v5.80 h-7.85 v7.85 h-5.80 v-7.85 h-7.85 v-5.80 h7.85 z" fill="#fff"/>
<text x="1898.67" y="115.90" font-size="24.40" fill="#000" stroke="#000" stroke-width="0.39">IHP</text>
<text x="1893.70" y="199.90" font-size="24.40" fill="#000" stroke="#000" stroke-width="0.39">OHP</text>
<path d="M1951.90 93.30 H1957.00 Q1960.20 93.30 1960.20 96.50 V201.50 Q1960.20 204.70 1957.00 204.70 H1951.90 M1959.00 149.30 H1968.80" fill="none" stroke="#000" stroke-width="1.9"/>
<path d="M1950.00 208.50 H1956.70 Q1959.90 208.50 1959.90 211.70 V433.90 Q1959.90 437.10 1956.70 437.10 H1950.00 M1958.70 323.20 H1968.40" fill="none" stroke="#000" stroke-width="1.9"/>
<text x="1974.90" y="71.66" font-size="29.80" fill="#000" stroke="#000" stroke-width="0.45" transform="rotate(90 1974.90 71.66)">Stern layer</text>
<text x="1974.90" y="240.86" font-size="29.80" fill="#000" stroke="#000" stroke-width="0.45" transform="rotate(90 1974.90 240.86)">Diffuse layer</text>
</g>
<g>
<text x="660.22" y="571.50" font-size="40.50" fill="#000" stroke="#000" stroke-width="0.59">e</text>
<text x="767.59" y="577.50" font-size="45.06" fill="#000" stroke="#000" stroke-width="0.64">Lower concentration</text>
<rect x="699.00" y="641.20" width="591.60" height="343.60" fill="url(#liq)" stroke="#d2f1fa" stroke-width="2.20" rx="8.00" />
<rect x="698.10" y="599.30" width="591.70" height="20.20" fill="url(#cu)" />
<rect x="698.10" y="620.00" width="591.70" height="20.50" fill="url(#ptfe)" />
<rect x="698.10" y="986.00" width="591.70" height="20.90" fill="url(#pmma)" />
<polygon points="1289.80,599.30 1289.80,619.50 1287.20,617.30 1287.20,601.50" fill="#b8703a"/>
<polygon points="698.10,599.30 698.10,619.50 700.30,617.30 700.30,601.50" fill="#f4b47c" opacity="0.7"/>
<polygon points="1289.80,620.00 1289.80,640.50 1287.20,638.30 1287.20,622.20" fill="#8c8c8c"/>
<polygon points="698.10,620.00 698.10,640.50 700.30,638.30 700.30,622.20" fill="#ececec" opacity="0.7"/>
<polygon points="1289.80,986.00 1289.80,1006.90 1287.20,1004.70 1287.20,988.20" fill="#5e5e5e"/>
<polygon points="698.10,986.00 698.10,1006.90 700.30,1004.70 700.30,988.20" fill="#a8a8a8" opacity="0.7"/>
<line x1="699.00" y1="720.10" x2="1291.50" y2="720.10" stroke="#000" stroke-width="3.80" stroke-dasharray="13.6 11.8"/>
<circle cx="883.30" cy="649.40" r="7.30" fill="url(#gE)"/>
<circle cx="979.60" cy="649.40" r="7.30" fill="url(#gE)"/>
<circle cx="1216.70" cy="649.00" r="7.30" fill="url(#gE)"/>
<line x1="848.20" y1="733.00" x2="848.20" y2="646.73" stroke="#fe1a0e" stroke-width="3.50"/>
<polyline points="839.90,659.73 848.20,645.73 856.50,659.73" fill="none" stroke="#fe1a0e" stroke-width="3.80" stroke-linecap="round" stroke-linejoin="miter" stroke-miterlimit="10"/>
<line x1="1130.70" y1="686.00" x2="1130.70" y2="644.73" stroke="#fe1a0e" stroke-width="3.50"/>
<polyline points="1122.40,657.73 1130.70,643.73 1139.00,657.73" fill="none" stroke="#fe1a0e" stroke-width="3.80" stroke-linecap="round" stroke-linejoin="miter" stroke-miterlimit="10"/>
<line x1="784.80" y1="850.00" x2="784.80" y2="726.93" stroke="#000" stroke-width="3.50"/>
<polyline points="776.50,739.93 784.80,725.93 793.10,739.93" fill="none" stroke="#000" stroke-width="3.80" stroke-linecap="round" stroke-linejoin="miter" stroke-miterlimit="10"/>
<line x1="947.10" y1="768.00" x2="947.10" y2="728.73" stroke="#000" stroke-width="3.50"/>
<polyline points="938.80,741.73 947.10,727.73 955.40,741.73" fill="none" stroke="#000" stroke-width="3.80" stroke-linecap="round" stroke-linejoin="miter" stroke-miterlimit="10"/>
<line x1="1075.40" y1="857.00" x2="1075.40" y2="728.73" stroke="#000" stroke-width="3.50"/>
<polyline points="1067.10,741.73 1075.40,727.73 1083.70,741.73" fill="none" stroke="#000" stroke-width="3.80" stroke-linecap="round" stroke-linejoin="miter" stroke-miterlimit="10"/>
<line x1="1204.60" y1="820.00" x2="1204.60" y2="728.73" stroke="#000" stroke-width="3.50"/>
<polyline points="1196.30,741.73 1204.60,727.73 1212.90,741.73" fill="none" stroke="#000" stroke-width="3.80" stroke-linecap="round" stroke-linejoin="miter" stroke-miterlimit="10"/>
<polygon points="757.40,690.66 764.00,690.66 760.40,735.20" fill="url(#tB)"/>
<polygon points="773.80,690.66 780.40,690.66 777.40,737.20" fill="url(#tB)"/>
<polygon points="764.40,690.66 772.40,690.66 768.10,743.20" fill="url(#tB)"/>
<circle cx="768.90" cy="668.50" r="28.90" fill="#fff" opacity="0.8" filter="url(#halo)"/>
<circle cx="768.90" cy="668.50" r="27.70" fill="url(#gB)"/>
<rect x="752.70" y="666.90" width="34.00" height="7.60" fill="#1f5f82" opacity="0.55"/>
<rect x="751.90" y="665.70" width="34.00" height="7.60" fill="#fff"/>
<polygon points="836.30,780.86 842.90,780.86 839.30,825.40" fill="url(#tB)"/>
<polygon points="852.70,780.86 859.30,780.86 856.30,827.40" fill="url(#tB)"/>
<polygon points="843.30,780.86 851.30,780.86 847.00,833.40" fill="url(#tB)"/>
<circle cx="847.80" cy="758.70" r="28.90" fill="#fff" opacity="0.8" filter="url(#halo)"/>
<circle cx="847.80" cy="758.70" r="27.70" fill="url(#gB)"/>
<rect x="831.60" y="757.10" width="34.00" height="7.60" fill="#1f5f82" opacity="0.55"/>
<rect x="830.80" y="755.90" width="34.00" height="7.60" fill="#fff"/>
<polygon points="1119.90,733.86 1126.50,733.86 1122.90,778.40" fill="url(#tB)"/>
<polygon points="1136.30,733.86 1142.90,733.86 1139.90,780.40" fill="url(#tB)"/>
<polygon points="1126.90,733.86 1134.90,733.86 1130.60,786.40" fill="url(#tB)"/>
<circle cx="1131.40" cy="711.70" r="28.90" fill="#fff" opacity="0.8" filter="url(#halo)"/>
<circle cx="1131.40" cy="711.70" r="27.70" fill="url(#gB)"/>
<rect x="1115.20" y="710.10" width="34.00" height="7.60" fill="#1f5f82" opacity="0.55"/>
<rect x="1114.40" y="708.90" width="34.00" height="7.60" fill="#fff"/>
<polygon points="775.30,879.74 779.90,879.74 777.30,898.90" fill="url(#tY)"/>
<polygon points="791.10,879.74 795.70,879.74 793.70,900.90" fill="url(#tY)"/>
<polygon points="782.10,879.74 787.90,879.74 784.70,910.90" fill="url(#tY)"/>
<circle cx="785.50" cy="865.10" r="19.50" fill="#fff" opacity="0.8" filter="url(#halo)"/>
<circle cx="785.50" cy="865.10" r="18.30" fill="url(#gY)"/>
<path d="M782.90 854.95 h5.80 v7.85 h7.85 v5.80 h-7.85 v7.85 h-5.80 v-7.85 h-7.85 v-5.80 h7.85 z" fill="#7a5a08" opacity="0.5" transform="translate(0.8,1.2)"/>
<path d="M782.90 854.95 h5.80 v7.85 h7.85 v5.80 h-7.85 v7.85 h-5.80 v-7.85 h-7.85 v-5.80 h7.85 z" fill="#fff"/>
<polygon points="936.90,799.14 941.50,799.14 938.90,818.30" fill="url(#tY)"/>
<polygon points="952.70,799.14 957.30,799.14 955.30,820.30" fill="url(#tY)"/>
<polygon points="943.70,799.14 949.50,799.14 946.30,830.30" fill="url(#tY)"/>
<circle cx="947.10" cy="784.50" r="19.50" fill="#fff" opacity="0.8" filter="url(#halo)"/>
<circle cx="947.10" cy="784.50" r="18.30" fill="url(#gY)"/>
<path d="M944.50 774.35 h5.80 v7.85 h7.85 v5.80 h-7.85 v7.85 h-5.80 v-7.85 h-7.85 v-5.80 h7.85 z" fill="#7a5a08" opacity="0.5" transform="translate(0.8,1.2)"/>
<path d="M944.50 774.35 h5.80 v7.85 h7.85 v5.80 h-7.85 v7.85 h-5.80 v-7.85 h-7.85 v-5.80 h7.85 z" fill="#fff"/>
<polygon points="1065.20,887.94 1069.80,887.94 1067.20,907.10" fill="url(#tY)"/>
<polygon points="1081.00,887.94 1085.60,887.94 1083.60,909.10" fill="url(#tY)"/>
<polygon points="1072.00,887.94 1077.80,887.94 1074.60,919.10" fill="url(#tY)"/>
<circle cx="1075.40" cy="873.30" r="19.50" fill="#fff" opacity="0.8" filter="url(#halo)"/>
<circle cx="1075.40" cy="873.30" r="18.30" fill="url(#gY)"/>
<path d="M1072.80 863.15 h5.80 v7.85 h7.85 v5.80 h-7.85 v7.85 h-5.80 v-7.85 h-7.85 v-5.80 h7.85 z" fill="#7a5a08" opacity="0.5" transform="translate(0.8,1.2)"/>
<path d="M1072.80 863.15 h5.80 v7.85 h7.85 v5.80 h-7.85 v7.85 h-5.80 v-7.85 h-7.85 v-5.80 h7.85 z" fill="#fff"/>
<polygon points="1193.20,850.64 1197.80,850.64 1195.20,869.80" fill="url(#tY)"/>
<polygon points="1209.00,850.64 1213.60,850.64 1211.60,871.80" fill="url(#tY)"/>
<polygon points="1200.00,850.64 1205.80,850.64 1202.60,881.80" fill="url(#tY)"/>
<circle cx="1203.40" cy="836.00" r="19.50" fill="#fff" opacity="0.8" filter="url(#halo)"/>
<circle cx="1203.40" cy="836.00" r="18.30" fill="url(#gY)"/>
<path d="M1200.80 825.85 h5.80 v7.85 h7.85 v5.80 h-7.85 v7.85 h-5.80 v-7.85 h-7.85 v-5.80 h7.85 z" fill="#7a5a08" opacity="0.5" transform="translate(0.8,1.2)"/>
<path d="M1200.80 825.85 h5.80 v7.85 h7.85 v5.80 h-7.85 v7.85 h-5.80 v-7.85 h-7.85 v-5.80 h7.85 z" fill="#fff"/>
<text x="1239.17" y="663.90" font-size="24.40" fill="#000" stroke="#000" stroke-width="0.39">IHP</text>
<text x="1235.60" y="716.00" font-size="24.40" fill="#000" stroke="#000" stroke-width="0.39">OHP</text>
<path d="M1291.50 641.00 H1296.50 Q1299.70 641.00 1299.70 644.20 V716.40 Q1299.70 719.60 1296.50 719.60 H1291.50 M1298.50 680.90 H1307.30" fill="none" stroke="#000" stroke-width="1.9"/>
<path d="M1291.50 721.30 H1294.70 Q1297.90 721.30 1297.90 724.50 V980.20 Q1297.90 983.40 1294.70 983.40 H1291.50 M1296.70 851.60 H1306.40" fill="none" stroke="#000" stroke-width="1.9"/>
<text x="1315.50" y="606.27" font-size="29.60" fill="#000" stroke="#000" stroke-width="0.45" transform="rotate(90 1315.50 606.27)">Stern layer</text>
<text x="1315.50" y="785.07" font-size="29.60" fill="#000" stroke="#000" stroke-width="0.45" transform="rotate(90 1315.50 785.07)">Diffuse layer</text>
</g>
<g>
<text x="1339.81" y="576.40" font-size="40.50" fill="#000" stroke="#000" stroke-width="0.59">f</text>
<text x="1445.88" y="579.30" font-size="45.15" fill="#000" stroke="#000" stroke-width="0.64">Higher concentration</text>
<rect x="1354.60" y="639.00" width="592.40" height="344.60" fill="url(#liq)" stroke="#d2f1fa" stroke-width="2.20" rx="8.00" />
<rect x="1354.50" y="597.10" width="591.30" height="19.90" fill="url(#cu)" />
<rect x="1354.50" y="617.60" width="591.30" height="20.50" fill="url(#ptfe)" />
<rect x="1354.50" y="984.50" width="591.30" height="20.10" fill="url(#pmma)" />
<polygon points="1945.80,597.10 1945.80,617.00 1943.20,614.80 1943.20,599.30" fill="#b8703a"/>
<polygon points="1354.50,597.10 1354.50,617.00 1356.70,614.80 1356.70,599.30" fill="#f4b47c" opacity="0.7"/>
<polygon points="1945.80,617.60 1945.80,638.10 1943.20,635.90 1943.20,619.80" fill="#8c8c8c"/>
<polygon points="1354.50,617.60 1354.50,638.10 1356.70,635.90 1356.70,619.80" fill="#ececec" opacity="0.7"/>
<polygon points="1945.80,984.50 1945.80,1004.60 1943.20,1002.40 1943.20,986.70" fill="#5e5e5e"/>
<polygon points="1354.50,984.50 1354.50,1004.60 1356.70,1002.40 1356.70,986.70" fill="#a8a8a8" opacity="0.7"/>
<line x1="1354.60" y1="719.50" x2="1948.00" y2="719.50" stroke="#000" stroke-width="3.80" stroke-dasharray="13.6 11.8"/>
<circle cx="1428.70" cy="646.40" r="7.40" fill="url(#gE)"/>
<circle cx="1576.90" cy="646.40" r="7.40" fill="url(#gE)"/>
<circle cx="1724.30" cy="646.40" r="7.40" fill="url(#gE)"/>
<circle cx="1872.80" cy="646.40" r="7.40" fill="url(#gE)"/>
<line x1="1383.20" y1="786.00" x2="1383.20" y2="728.43" stroke="#fe1a0e" stroke-width="3.50"/>
<polyline points="1374.90,741.43 1383.20,727.43 1391.50,741.43" fill="none" stroke="#fe1a0e" stroke-width="3.80" stroke-linecap="round" stroke-linejoin="miter" stroke-miterlimit="10"/>
<line x1="1569.80" y1="803.00" x2="1569.80" y2="728.73" stroke="#fe1a0e" stroke-width="3.50"/>
<polyline points="1561.50,741.73 1569.80,727.73 1578.10,741.73" fill="none" stroke="#fe1a0e" stroke-width="3.80" stroke-linecap="round" stroke-linejoin="miter" stroke-miterlimit="10"/>
<line x1="1682.50" y1="823.00" x2="1682.50" y2="728.43" stroke="#fe1a0e" stroke-width="3.50"/>
<polyline points="1674.20,741.43 1682.50,727.43 1690.80,741.43" fill="none" stroke="#fe1a0e" stroke-width="3.80" stroke-linecap="round" stroke-linejoin="miter" stroke-miterlimit="10"/>
<line x1="1858.60" y1="768.00" x2="1858.60" y2="729.53" stroke="#fe1a0e" stroke-width="3.50"/>
<polyline points="1850.30,742.53 1858.60,728.53 1866.90,742.53" fill="none" stroke="#fe1a0e" stroke-width="3.80" stroke-linecap="round" stroke-linejoin="miter" stroke-miterlimit="10"/>
<polygon points="1425.62,751.76 1431.38,751.76 1428.20,788.30" fill="url(#tY)"/>
<polygon points="1441.43,751.76 1447.18,751.76 1444.60,790.30" fill="url(#tY)"/>
<polygon points="1432.28,751.76 1439.53,751.76 1435.60,799.30" fill="url(#tY)"/>
<circle cx="1436.40" cy="737.60" r="18.90" fill="#fff" opacity="0.8" filter="url(#halo)"/>
<circle cx="1436.40" cy="737.60" r="17.70" fill="url(#gY)"/>
<path d="M1433.90 727.80 h5.61 v7.59 h7.59 v5.61 h-7.59 v7.59 h-5.61 v-7.59 h-7.59 v-5.61 h7.59 z" fill="#7a5a08" opacity="0.5" transform="translate(0.8,1.2)"/>
<path d="M1433.90 727.80 h5.61 v7.59 h7.59 v5.61 h-7.59 v7.59 h-5.61 v-7.59 h-7.59 v-5.61 h7.59 z" fill="#fff"/>
<polygon points="1372.72,817.76 1378.47,817.76 1375.30,854.30" fill="url(#tY)"/>
<polygon points="1388.53,817.76 1394.28,817.76 1391.70,856.30" fill="url(#tY)"/>
<polygon points="1379.38,817.76 1386.62,817.76 1382.70,865.30" fill="url(#tY)"/>
<circle cx="1383.50" cy="803.60" r="18.90" fill="#fff" opacity="0.8" filter="url(#halo)"/>
<circle cx="1383.50" cy="803.60" r="17.70" fill="url(#gY)"/>
<path d="M1381.00 793.80 h5.61 v7.59 h7.59 v5.61 h-7.59 v7.59 h-5.61 v-7.59 h-7.59 v-5.61 h7.59 z" fill="#7a5a08" opacity="0.5" transform="translate(0.8,1.2)"/>
<path d="M1381.00 793.80 h5.61 v7.59 h7.59 v5.61 h-7.59 v7.59 h-5.61 v-7.59 h-7.59 v-5.61 h7.59 z" fill="#fff"/>
<polygon points="1559.02,835.36 1564.77,835.36 1561.60,871.90" fill="url(#tY)"/>
<polygon points="1574.83,835.36 1580.58,835.36 1578.00,873.90" fill="url(#tY)"/>
<polygon points="1565.67,835.36 1572.92,835.36 1569.00,882.90" fill="url(#tY)"/>
<circle cx="1569.80" cy="821.20" r="18.90" fill="#fff" opacity="0.8" filter="url(#halo)"/>
<circle cx="1569.80" cy="821.20" r="17.70" fill="url(#gY)"/>
<path d="M1567.30 811.40 h5.61 v7.59 h7.59 v5.61 h-7.59 v7.59 h-5.61 v-7.59 h-7.59 v-5.61 h7.59 z" fill="#7a5a08" opacity="0.5" transform="translate(0.8,1.2)"/>
<path d="M1567.30 811.40 h5.61 v7.59 h7.59 v5.61 h-7.59 v7.59 h-5.61 v-7.59 h-7.59 v-5.61 h7.59 z" fill="#fff"/>
<polygon points="1673.52,858.76 1679.27,858.76 1676.10,895.30" fill="url(#tY)"/>
<polygon points="1689.33,858.76 1695.08,858.76 1692.50,897.30" fill="url(#tY)"/>
<polygon points="1680.17,858.76 1687.42,858.76 1683.50,906.30" fill="url(#tY)"/>
<circle cx="1684.30" cy="844.60" r="18.90" fill="#fff" opacity="0.8" filter="url(#halo)"/>
<circle cx="1684.30" cy="844.60" r="17.70" fill="url(#gY)"/>
<path d="M1681.80 834.80 h5.61 v7.59 h7.59 v5.61 h-7.59 v7.59 h-5.61 v-7.59 h-7.59 v-5.61 h7.59 z" fill="#7a5a08" opacity="0.5" transform="translate(0.8,1.2)"/>
<path d="M1681.80 834.80 h5.61 v7.59 h7.59 v5.61 h-7.59 v7.59 h-5.61 v-7.59 h-7.59 v-5.61 h7.59 z" fill="#fff"/>
<polygon points="1732.52,751.26 1738.27,751.26 1735.10,787.80" fill="url(#tY)"/>
<polygon points="1748.33,751.26 1754.08,751.26 1751.50,789.80" fill="url(#tY)"/>
<polygon points="1739.17,751.26 1746.42,751.26 1742.50,798.80" fill="url(#tY)"/>
<circle cx="1743.30" cy="737.10" r="18.90" fill="#fff" opacity="0.8" filter="url(#halo)"/>
<circle cx="1743.30" cy="737.10" r="17.70" fill="url(#gY)"/>
<path d="M1740.80 727.30 h5.61 v7.59 h7.59 v5.61 h-7.59 v7.59 h-5.61 v-7.59 h-7.59 v-5.61 h7.59 z" fill="#7a5a08" opacity="0.5" transform="translate(0.8,1.2)"/>
<path d="M1740.80 727.30 h5.61 v7.59 h7.59 v5.61 h-7.59 v7.59 h-5.61 v-7.59 h-7.59 v-5.61 h7.59 z" fill="#fff"/>
<polygon points="1847.82,799.06 1853.57,799.06 1850.40,835.60" fill="url(#tY)"/>
<polygon points="1863.62,799.06 1869.38,799.06 1866.80,837.60" fill="url(#tY)"/>
<polygon points="1854.47,799.06 1861.72,799.06 1857.80,846.60" fill="url(#tY)"/>
<circle cx="1858.60" cy="784.90" r="18.90" fill="#fff" opacity="0.8" filter="url(#halo)"/>
<circle cx="1858.60" cy="784.90" r="17.70" fill="url(#gY)"/>
<path d="M1856.10 775.10 h5.61 v7.59 h7.59 v5.61 h-7.59 v7.59 h-5.61 v-7.59 h-7.59 v-5.61 h7.59 z" fill="#7a5a08" opacity="0.5" transform="translate(0.8,1.2)"/>
<path d="M1856.10 775.10 h5.61 v7.59 h7.59 v5.61 h-7.59 v7.59 h-5.61 v-7.59 h-7.59 v-5.61 h7.59 z" fill="#fff"/>
<polygon points="1906.22,751.66 1911.97,751.66 1908.80,788.20" fill="url(#tY)"/>
<polygon points="1922.03,751.66 1927.78,751.66 1925.20,790.20" fill="url(#tY)"/>
<polygon points="1912.88,751.66 1920.12,751.66 1916.20,799.20" fill="url(#tY)"/>
<circle cx="1917.00" cy="737.50" r="18.90" fill="#fff" opacity="0.8" filter="url(#halo)"/>
<circle cx="1917.00" cy="737.50" r="17.70" fill="url(#gY)"/>
<path d="M1914.50 727.70 h5.61 v7.59 h7.59 v5.61 h-7.59 v7.59 h-5.61 v-7.59 h-7.59 v-5.61 h7.59 z" fill="#7a5a08" opacity="0.5" transform="translate(0.8,1.2)"/>
<path d="M1914.50 727.70 h5.61 v7.59 h7.59 v5.61 h-7.59 v7.59 h-5.61 v-7.59 h-7.59 v-5.61 h7.59 z" fill="#fff"/>
<line x1="1494.00" y1="838.00" x2="1494.00" y2="762.63" stroke="#000" stroke-width="3.50"/>
<polyline points="1485.70,775.63 1494.00,761.63 1502.30,775.63" fill="none" stroke="#000" stroke-width="3.80" stroke-linecap="round" stroke-linejoin="miter" stroke-miterlimit="10"/>
<line x1="1618.30" y1="888.00" x2="1618.30" y2="767.93" stroke="#000" stroke-width="3.50"/>
<polyline points="1610.00,780.93 1618.30,766.93 1626.60,780.93" fill="none" stroke="#000" stroke-width="3.80" stroke-linecap="round" stroke-linejoin="miter" stroke-miterlimit="10"/>
<line x1="1791.80" y1="837.00" x2="1791.80" y2="762.73" stroke="#000" stroke-width="3.50"/>
<polyline points="1783.50,775.73 1791.80,761.73 1800.10,775.73" fill="none" stroke="#000" stroke-width="3.80" stroke-linecap="round" stroke-linejoin="miter" stroke-miterlimit="10"/>
<line x1="1920.30" y1="835.00" x2="1920.30" y2="759.71" stroke="#000" stroke-width="4.50"/>
<polyline points="1912.00,772.71 1920.30,758.71 1928.60,772.71" fill="none" stroke="#000" stroke-width="4.80" stroke-linecap="round" stroke-linejoin="miter" stroke-miterlimit="10"/>
<polygon points="1482.00,888.14 1488.60,888.14 1485.00,914.30" fill="url(#tB)"/>
<polygon points="1498.40,888.14 1505.00,888.14 1502.00,916.30" fill="url(#tB)"/>
<polygon points="1489.00,888.14 1497.00,888.14 1492.70,923.80" fill="url(#tB)"/>
<circle cx="1493.50" cy="865.50" r="29.50" fill="#fff" opacity="0.8" filter="url(#halo)"/>
<circle cx="1493.50" cy="865.50" r="28.30" fill="url(#gB)"/>
<rect x="1476.93" y="863.82" width="34.74" height="7.76" fill="#1f5f82" opacity="0.55"/>
<rect x="1476.13" y="862.62" width="34.74" height="7.76" fill="#fff"/>
<polygon points="1606.80,937.74 1613.40,937.74 1609.80,963.90" fill="url(#tB)"/>
<polygon points="1623.20,937.74 1629.80,937.74 1626.80,965.90" fill="url(#tB)"/>
<polygon points="1613.80,937.74 1621.80,937.74 1617.50,973.40" fill="url(#tB)"/>
<circle cx="1618.30" cy="915.10" r="29.50" fill="#fff" opacity="0.8" filter="url(#halo)"/>
<circle cx="1618.30" cy="915.10" r="28.30" fill="url(#gB)"/>
<rect x="1601.73" y="913.42" width="34.74" height="7.76" fill="#1f5f82" opacity="0.55"/>
<rect x="1600.93" y="912.22" width="34.74" height="7.76" fill="#fff"/>
<polygon points="1779.20,887.74 1785.80,887.74 1782.20,913.90" fill="url(#tB)"/>
<polygon points="1795.60,887.74 1802.20,887.74 1799.20,915.90" fill="url(#tB)"/>
<polygon points="1786.20,887.74 1794.20,887.74 1789.90,923.40" fill="url(#tB)"/>
<circle cx="1790.70" cy="865.10" r="29.50" fill="#fff" opacity="0.8" filter="url(#halo)"/>
<circle cx="1790.70" cy="865.10" r="28.30" fill="url(#gB)"/>
<rect x="1774.13" y="863.42" width="34.74" height="7.76" fill="#1f5f82" opacity="0.55"/>
<rect x="1773.33" y="862.22" width="34.74" height="7.76" fill="#fff"/>
<polygon points="1907.90,884.74 1914.50,884.74 1910.90,910.90" fill="url(#tB)"/>
<polygon points="1924.30,884.74 1930.90,884.74 1927.90,912.90" fill="url(#tB)"/>
<polygon points="1914.90,884.74 1922.90,884.74 1918.60,920.40" fill="url(#tB)"/>
<circle cx="1919.40" cy="862.10" r="29.50" fill="#fff" opacity="0.8" filter="url(#halo)"/>
<circle cx="1919.40" cy="862.10" r="28.30" fill="url(#gB)"/>
<rect x="1902.83" y="860.42" width="34.74" height="7.76" fill="#1f5f82" opacity="0.55"/>
<rect x="1902.03" y="859.22" width="34.74" height="7.76" fill="#fff"/>
<text x="1895.77" y="659.50" font-size="24.40" fill="#000" stroke="#000" stroke-width="0.39">IHP</text>
<text x="1890.80" y="713.10" font-size="24.40" fill="#000" stroke="#000" stroke-width="0.39">OHP</text>
<path d="M1947.20 638.60 H1951.70 Q1954.90 638.60 1954.90 641.80 V715.80 Q1954.90 719.00 1951.70 719.00 H1947.20 M1953.70 678.80 H1962.70" fill="none" stroke="#000" stroke-width="1.9"/>
<path d="M1947.20 720.30 H1952.20 Q1955.40 720.30 1955.40 723.50 V979.00 Q1955.40 982.20 1952.20 982.20 H1947.20 M1954.20 850.10 H1963.40" fill="none" stroke="#000" stroke-width="1.9"/>
<text x="1970.60" y="604.88" font-size="29.40" fill="#000" stroke="#000" stroke-width="0.45" transform="rotate(90 1970.60 604.88)">Stern layer</text>
<text x="1970.60" y="786.38" font-size="29.40" fill="#000" stroke="#000" stroke-width="0.45" transform="rotate(90 1970.60 786.38)">Diffuse layer</text>
</g>
<g>
<rect x="956.60" y="475.90" width="39.70" height="36.60" fill="#dadada" />
<polygon points="956.60,475.90 996.30,475.90 993.70,478.50 959.20,478.50" fill="#ececec"/>
<polygon points="956.60,475.90 959.20,478.50 959.20,509.90 956.60,512.50" fill="#ececec"/>
<polygon points="956.60,512.50 996.30,512.50 993.70,509.90 959.20,509.90" fill="#a2a2a2"/>
<polygon points="996.30,475.90 996.30,512.50 993.70,509.90 993.70,478.50" fill="#a2a2a2"/>
<text x="1005.20" y="508.60" font-size="38.80" fill="#000" stroke="#000" stroke-width="0.57">PTFE</text>
<rect x="1113.50" y="474.80" width="38.90" height="36.40" fill="#eda05e" />
<polygon points="1113.50,474.80 1152.40,474.80 1149.80,477.40 1116.10,477.40" fill="#f6b880"/>
<polygon points="1113.50,474.80 1116.10,477.40 1116.10,508.60 1113.50,511.20" fill="#f6b880"/>
<polygon points="1113.50,511.20 1152.40,511.20 1149.80,508.60 1116.10,508.60" fill="#c07a42"/>
<polygon points="1152.40,474.80 1152.40,511.20 1149.80,508.60 1149.80,477.40" fill="#c07a42"/>
<text x="1160.40" y="506.00" font-size="38.60" fill="#000" stroke="#000" stroke-width="0.56" letter-spacing="1.30">Cu</text>
<rect x="1224.00" y="474.80" width="40.50" height="36.40" fill="#8a8a8a" />
<polygon points="1224.00,474.80 1264.50,474.80 1261.90,477.40 1226.60,477.40" fill="#a4a4a4"/>
<polygon points="1224.00,474.80 1226.60,477.40 1226.60,508.60 1224.00,511.20" fill="#a4a4a4"/>
<polygon points="1224.00,511.20 1264.50,511.20 1261.90,508.60 1226.60,508.60" fill="#686868"/>
<polygon points="1264.50,474.80 1264.50,511.20 1261.90,508.60 1261.90,477.40" fill="#686868"/>
<text x="1273.00" y="508.60" font-size="38.80" fill="#000" stroke="#000" stroke-width="0.57" letter-spacing="0.60">PMMA</text>
<circle cx="1418.90" cy="495.30" r="11.30" fill="url(#gE)"/>
<text x="1433.00" y="507.90" font-size="38.40" fill="#000" stroke="#000" stroke-width="0.56">Electron</text>
<circle cx="1609.00" cy="493.80" r="19.60" fill="#fff" opacity="0.8" filter="url(#halo)"/>
<circle cx="1609.00" cy="493.80" r="18.40" fill="url(#gGL)"/>
<rect x="1595.61" y="491.57" width="28.38" height="7.66" fill="#3d6a22" opacity="0.55"/>
<rect x="1594.81" y="490.57" width="28.38" height="7.66" fill="#fff"/>
<text x="1632.20" y="507.90" font-size="38.30" fill="#000" stroke="#000" stroke-width="0.56">Cl<tspan dy="-11.49" font-size="25.28">-</tspan></text>
<circle cx="1715.70" cy="492.80" r="20.20" fill="#fff" opacity="0.8" filter="url(#halo)"/>
<circle cx="1715.70" cy="492.80" r="19.00" fill="url(#gYL)"/>
<path d="M1711.84 481.12 h8.31 v8.12 h8.12 v8.31 h-8.12 v8.12 h-8.31 v-8.12 h-8.12 v-8.31 h8.12 z" fill="#7a5a08" opacity="0.5" transform="translate(0.8,1.2)"/>
<path d="M1711.84 481.12 h8.31 v8.12 h8.12 v8.31 h-8.12 v8.12 h-8.31 v-8.12 h-8.12 v-8.31 h8.12 z" fill="#fff"/>
<text x="1741.30" y="506.60" font-size="38.30" fill="#000" stroke="#000" stroke-width="0.56">Li<tspan dy="-11.49" font-size="25.28">+</tspan></text>
<rect x="956.60" y="1017.40" width="36.60" height="34.30" fill="#dadada" />
<polygon points="956.60,1017.40 993.20,1017.40 990.60,1020.00 959.20,1020.00" fill="#ececec"/>
<polygon points="956.60,1017.40 959.20,1020.00 959.20,1049.10 956.60,1051.70" fill="#ececec"/>
<polygon points="956.60,1051.70 993.20,1051.70 990.60,1049.10 959.20,1049.10" fill="#a2a2a2"/>
<polygon points="993.20,1017.40 993.20,1051.70 990.60,1049.10 990.60,1020.00" fill="#a2a2a2"/>
<text x="1001.70" y="1048.10" font-size="35.80" fill="#000" stroke="#000" stroke-width="0.53">PTFE</text>
<rect x="1102.70" y="1016.10" width="35.60" height="34.60" fill="#eda05e" />
<polygon points="1102.70,1016.10 1138.30,1016.10 1135.70,1018.70 1105.30,1018.70" fill="#f6b880"/>
<polygon points="1102.70,1016.10 1105.30,1018.70 1105.30,1048.10 1102.70,1050.70" fill="#f6b880"/>
<polygon points="1102.70,1050.70 1138.30,1050.70 1135.70,1048.10 1105.30,1048.10" fill="#c07a42"/>
<polygon points="1138.30,1016.10 1138.30,1050.70 1135.70,1048.10 1135.70,1018.70" fill="#c07a42"/>
<text x="1145.60" y="1046.00" font-size="35.50" fill="#000" stroke="#000" stroke-width="0.53" letter-spacing="1.30">Cu</text>
<rect x="1204.80" y="1016.90" width="37.10" height="33.80" fill="#8a8a8a" />
<polygon points="1204.80,1016.90 1241.90,1016.90 1239.30,1019.50 1207.40,1019.50" fill="#a4a4a4"/>
<polygon points="1204.80,1016.90 1207.40,1019.50 1207.40,1048.10 1204.80,1050.70" fill="#a4a4a4"/>
<polygon points="1204.80,1050.70 1241.90,1050.70 1239.30,1048.10 1207.40,1048.10" fill="#686868"/>
<polygon points="1241.90,1016.90 1241.90,1050.70 1239.30,1048.10 1239.30,1019.50" fill="#686868"/>
<text x="1249.60" y="1048.10" font-size="35.80" fill="#000" stroke="#000" stroke-width="0.53" letter-spacing="0.90">PMMA</text>
<circle cx="1385.70" cy="1035.80" r="10.70" fill="url(#gE)"/>
<text x="1398.20" y="1047.30" font-size="35.80" fill="#000" stroke="#000" stroke-width="0.53">Electron</text>
<circle cx="1579.60" cy="1034.50" r="26.80" fill="#fff" opacity="0.8" filter="url(#halo)"/>
<circle cx="1579.60" cy="1034.50" r="25.60" fill="url(#gBL)"/>
<rect x="1563.43" y="1032.42" width="33.94" height="8.57" fill="#1f5f82" opacity="0.55"/>
<rect x="1562.63" y="1031.22" width="33.94" height="8.57" fill="#fff"/>
<text x="1611.30" y="1047.30" font-size="35.80" fill="#000" stroke="#000" stroke-width="0.53">[TFSI]<tspan dy="-10.74" font-size="23.63">-</tspan></text>
<circle cx="1750.50" cy="1038.40" r="18.60" fill="#fff" opacity="0.8" filter="url(#halo)"/>
<circle cx="1750.50" cy="1038.40" r="17.40" fill="url(#gYL)"/>
<path d="M1746.99 1027.76 h7.61 v7.44 h7.44 v7.61 h-7.44 v7.44 h-7.61 v-7.44 h-7.44 v-7.61 h7.44 z" fill="#7a5a08" opacity="0.5" transform="translate(0.8,1.2)"/>
<path d="M1746.99 1027.76 h7.61 v7.44 h7.44 v7.61 h-7.44 v7.44 h-7.61 v-7.44 h-7.44 v-7.61 h7.44 z" fill="#fff"/>
<text x="1774.20" y="1047.30" font-size="35.40" fill="#000" stroke="#000" stroke-width="0.52">Li<tspan dy="-10.62" font-size="23.36">+</tspan></text>
</g>
<g>
<text x="16.48" y="1108.00" font-size="39.50" fill="#000" stroke="#000" stroke-width="0.57">g</text>
<rect x="166.80" y="1098.90" width="819.50" height="409.50" fill="#fff" stroke="#000" stroke-width="3.40" />
<line x1="166.80" y1="1508.40" x2="175.80" y2="1508.40" stroke="#000" stroke-width="2.80"/>
<text x="155.30" y="1515.40" font-size="25.30" fill="#000" stroke="#000" stroke-width="0.40" text-anchor="end">0.0</text>
<line x1="166.80" y1="1467.45" x2="171.80" y2="1467.45" stroke="#000" stroke-width="2.60"/>
<line x1="166.80" y1="1426.50" x2="175.80" y2="1426.50" stroke="#000" stroke-width="2.80"/>
<text x="155.30" y="1436.10" font-size="25.30" fill="#000" stroke="#000" stroke-width="0.40" text-anchor="end">5.0x10<tspan dy="-11.13" font-size="16.19">-4</tspan></text>
<line x1="166.80" y1="1385.55" x2="171.80" y2="1385.55" stroke="#000" stroke-width="2.60"/>
<line x1="166.80" y1="1344.60" x2="175.80" y2="1344.60" stroke="#000" stroke-width="2.80"/>
<text x="155.30" y="1354.20" font-size="25.30" fill="#000" stroke="#000" stroke-width="0.40" text-anchor="end">1.0x10<tspan dy="-11.13" font-size="16.19">-3</tspan></text>
<line x1="166.80" y1="1303.65" x2="171.80" y2="1303.65" stroke="#000" stroke-width="2.60"/>
<line x1="166.80" y1="1262.70" x2="175.80" y2="1262.70" stroke="#000" stroke-width="2.80"/>
<text x="155.30" y="1272.30" font-size="25.30" fill="#000" stroke="#000" stroke-width="0.40" text-anchor="end">1.5x10<tspan dy="-11.13" font-size="16.19">-3</tspan></text>
<line x1="166.80" y1="1221.75" x2="171.80" y2="1221.75" stroke="#000" stroke-width="2.60"/>
<line x1="166.80" y1="1180.80" x2="175.80" y2="1180.80" stroke="#000" stroke-width="2.80"/>
<text x="155.30" y="1190.40" font-size="25.30" fill="#000" stroke="#000" stroke-width="0.40" text-anchor="end">2.0x10<tspan dy="-11.13" font-size="16.19">-3</tspan></text>
<line x1="166.80" y1="1139.85" x2="171.80" y2="1139.85" stroke="#000" stroke-width="2.60"/>
<line x1="166.80" y1="1098.90" x2="175.80" y2="1098.90" stroke="#000" stroke-width="2.80"/>
<text x="155.30" y="1108.50" font-size="25.30" fill="#000" stroke="#000" stroke-width="0.40" text-anchor="end">2.5x10<tspan dy="-11.13" font-size="16.19">-3</tspan></text>
<rect x="237.40" y="1370.81" width="70.70" height="137.59" fill="#74b4fc" stroke="#111" stroke-width="1.50" />
<rect x="308.10" y="1295.46" width="72.30" height="212.94" fill="#f08b7d" stroke="#111" stroke-width="1.50" />
<line x1="308.10" y1="1508.40" x2="308.10" y2="1500.40" stroke="#000" stroke-width="2.40"/>
<rect x="415.80" y="1328.22" width="71.10" height="180.18" fill="#74b4fc" stroke="#111" stroke-width="1.50" />
<rect x="486.90" y="1246.32" width="71.30" height="262.08" fill="#f08b7d" stroke="#111" stroke-width="1.50" />
<line x1="486.90" y1="1508.40" x2="486.90" y2="1500.40" stroke="#000" stroke-width="2.40"/>
<rect x="594.30" y="1279.08" width="71.10" height="229.32" fill="#74b4fc" stroke="#111" stroke-width="1.50" />
<rect x="665.40" y="1197.18" width="71.30" height="311.22" fill="#f08b7d" stroke="#111" stroke-width="1.50" />
<line x1="665.40" y1="1508.40" x2="665.40" y2="1500.40" stroke="#000" stroke-width="2.40"/>
<rect x="772.90" y="1262.70" width="70.60" height="245.70" fill="#74b4fc" stroke="#111" stroke-width="1.50" />
<rect x="843.50" y="1164.42" width="71.20" height="343.98" fill="#f08b7d" stroke="#111" stroke-width="1.50" />
<line x1="843.50" y1="1508.40" x2="843.50" y2="1500.40" stroke="#000" stroke-width="2.40"/>
<line x1="166.80" y1="1508.40" x2="986.30" y2="1508.40" stroke="#000" stroke-width="3.40"/>
<text x="307.90" y="1537.80" font-size="25.40" fill="#000" stroke="#000" stroke-width="0.40" text-anchor="middle">273.15</text>
<text x="486.70" y="1537.80" font-size="25.40" fill="#000" stroke="#000" stroke-width="0.40" text-anchor="middle">293.15</text>
<text x="665.20" y="1537.80" font-size="25.40" fill="#000" stroke="#000" stroke-width="0.40" text-anchor="middle">313.15</text>
<text x="843.30" y="1537.80" font-size="25.40" fill="#000" stroke="#000" stroke-width="0.40" text-anchor="middle">333.15</text>
<text x="535.52" y="1565.00" font-size="33.70" fill="#000" stroke="#000" stroke-width="0.50">T<tspan dy="9.44" font-size="22.48">K</tspan><tspan dy="-9.44"> (K)</tspan></text>
<text x="51.20" y="1304.20" font-size="33.00" fill="#000" stroke="#000" stroke-width="0.50" text-anchor="middle" transform="rotate(-90 51.20 1304.20)"><tspan font-style="italic">D</tspan> (Å<tspan dy="-11.88" font-size="20.46">2</tspan><tspan dy="11.88">/ps)</tspan></text>
<rect x="219.30" y="1124.40" width="74.20" height="35.50" fill="#74b4fc" stroke="#111" stroke-width="1.50" />
<rect x="219.30" y="1170.70" width="74.20" height="34.80" fill="#f08b7d" stroke="#111" stroke-width="1.50" />
<text x="304.82" y="1152.90" font-size="32.53" fill="#74b4fc" stroke="#74b4fc" stroke-width="0.49">Li<tspan dy="-13.66" font-size="21.47">+</tspan></text>
<text x="303.95" y="1199.00" font-size="32.80" fill="#f08b7d" stroke="#f08b7d" stroke-width="0.49">Cl<tspan dy="-13.78" font-size="21.65">-</tspan></text>
<text x="441.52" y="1157.80" font-size="47.53" fill="#000" stroke="#000" stroke-width="0.67">LiCl 10<tspan dy="-14.74" font-size="29.47">-1</tspan><tspan dy="14.74"> M</tspan></text>
</g>
<g>
<text x="1008.91" y="1122.60" font-size="40.00" fill="#000" stroke="#000" stroke-width="0.58">h</text>
<rect x="1154.20" y="1101.10" width="820.40" height="410.90" fill="#fff" stroke="#000" stroke-width="3.40" />
<line x1="1154.20" y1="1512.00" x2="1163.20" y2="1512.00" stroke="#000" stroke-width="2.80"/>
<text x="1142.70" y="1519.00" font-size="25.30" fill="#000" stroke="#000" stroke-width="0.40" text-anchor="end">0.0</text>
<line x1="1154.20" y1="1460.64" x2="1159.20" y2="1460.64" stroke="#000" stroke-width="2.60"/>
<line x1="1154.20" y1="1409.28" x2="1163.20" y2="1409.28" stroke="#000" stroke-width="2.80"/>
<text x="1142.70" y="1418.88" font-size="25.30" fill="#000" stroke="#000" stroke-width="0.40" text-anchor="end">5.0x10<tspan dy="-11.13" font-size="16.19">-4</tspan></text>
<line x1="1154.20" y1="1357.91" x2="1159.20" y2="1357.91" stroke="#000" stroke-width="2.60"/>
<line x1="1154.20" y1="1306.55" x2="1163.20" y2="1306.55" stroke="#000" stroke-width="2.80"/>
<text x="1142.70" y="1316.15" font-size="25.30" fill="#000" stroke="#000" stroke-width="0.40" text-anchor="end">1.0x10<tspan dy="-11.13" font-size="16.19">-3</tspan></text>
<line x1="1154.20" y1="1255.19" x2="1159.20" y2="1255.19" stroke="#000" stroke-width="2.60"/>
<line x1="1154.20" y1="1203.82" x2="1163.20" y2="1203.82" stroke="#000" stroke-width="2.80"/>
<text x="1142.70" y="1213.42" font-size="25.30" fill="#000" stroke="#000" stroke-width="0.40" text-anchor="end">1.5x10<tspan dy="-11.13" font-size="16.19">-3</tspan></text>
<line x1="1154.20" y1="1152.46" x2="1159.20" y2="1152.46" stroke="#000" stroke-width="2.60"/>
<line x1="1154.20" y1="1101.10" x2="1163.20" y2="1101.10" stroke="#000" stroke-width="2.80"/>
<text x="1142.70" y="1110.70" font-size="25.30" fill="#000" stroke="#000" stroke-width="0.40" text-anchor="end">2.0x10<tspan dy="-11.13" font-size="16.19">-3</tspan></text>
<rect x="1223.90" y="1335.31" width="71.90" height="176.69" fill="#74b4fc" stroke="#111" stroke-width="1.50" />
<rect x="1295.80" y="1353.80" width="70.90" height="158.20" fill="#f08b7d" stroke="#111" stroke-width="1.50" />
<line x1="1295.80" y1="1512.00" x2="1295.80" y2="1504.00" stroke="#000" stroke-width="2.40"/>
<rect x="1402.50" y="1286.00" width="71.40" height="226.00" fill="#74b4fc" stroke="#111" stroke-width="1.50" />
<rect x="1473.90" y="1341.48" width="71.40" height="170.52" fill="#f08b7d" stroke="#111" stroke-width="1.50" />
<line x1="1473.90" y1="1512.00" x2="1473.90" y2="1504.00" stroke="#000" stroke-width="2.40"/>
<rect x="1581.00" y="1265.46" width="70.90" height="246.54" fill="#74b4fc" stroke="#111" stroke-width="1.50" />
<rect x="1651.90" y="1244.91" width="71.40" height="267.09" fill="#f08b7d" stroke="#111" stroke-width="1.50" />
<line x1="1651.90" y1="1512.00" x2="1651.90" y2="1504.00" stroke="#000" stroke-width="2.40"/>
<rect x="1759.60" y="1203.82" width="70.40" height="308.18" fill="#74b4fc" stroke="#111" stroke-width="1.50" />
<rect x="1830.00" y="1142.19" width="71.90" height="369.81" fill="#f08b7d" stroke="#111" stroke-width="1.50" />
<line x1="1830.00" y1="1512.00" x2="1830.00" y2="1504.00" stroke="#000" stroke-width="2.40"/>
<line x1="1154.20" y1="1512.00" x2="1974.60" y2="1512.00" stroke="#000" stroke-width="3.40"/>
<text x="1295.30" y="1540.60" font-size="25.40" fill="#000" stroke="#000" stroke-width="0.40" text-anchor="middle">273.15</text>
<text x="1473.40" y="1540.60" font-size="25.40" fill="#000" stroke="#000" stroke-width="0.40" text-anchor="middle">293.15</text>
<text x="1651.40" y="1540.60" font-size="25.40" fill="#000" stroke="#000" stroke-width="0.40" text-anchor="middle">313.15</text>
<text x="1829.50" y="1540.60" font-size="25.40" fill="#000" stroke="#000" stroke-width="0.40" text-anchor="middle">333.15</text>
<text x="1569.30" y="1567.60" font-size="33.00" fill="#000" stroke="#000" stroke-width="0.50" text-anchor="middle">T<tspan dy="9.24" font-size="22.01">K</tspan><tspan dy="-9.24"> (K)</tspan></text>
<text x="1038.20" y="1305.00" font-size="33.00" fill="#000" stroke="#000" stroke-width="0.50" text-anchor="middle" transform="rotate(-90 1038.20 1305.00)"><tspan font-style="italic">D</tspan> (Å<tspan dy="-11.88" font-size="20.46">2</tspan><tspan dy="11.88">/ps)</tspan></text>
<rect x="1207.10" y="1130.20" width="74.60" height="35.50" fill="#74b4fc" stroke="#111" stroke-width="1.50" />
<rect x="1207.10" y="1176.20" width="74.60" height="36.40" fill="#f08b7d" stroke="#111" stroke-width="1.50" />
<text x="1291.98" y="1158.50" font-size="33.12" fill="#74b4fc" stroke="#74b4fc" stroke-width="0.50">Li<tspan dy="-13.91" font-size="21.86">+</tspan></text>
<text x="1292.35" y="1205.40" font-size="32.90" fill="#f08b7d" stroke="#f08b7d" stroke-width="0.49">[TFSI]<tspan dy="-13.82" font-size="21.71">-</tspan></text>
<text x="1398.70" y="1157.50" font-size="47.89" fill="#000" stroke="#000" stroke-width="0.67">Li[TFSI] 10<tspan dy="-14.85" font-size="29.69">-1</tspan><tspan dy="14.85"> M</tspan></text>
</g>
<g>
<text x="16.04" y="1632.00" font-size="39.50" fill="#000" stroke="#000" stroke-width="0.57">i</text>
<rect x="150.30" y="1625.40" width="840.30" height="408.10" fill="#fff" stroke="#000" stroke-width="3.40" />
<line x1="150.30" y1="2033.50" x2="159.30" y2="2033.50" stroke="#000" stroke-width="2.80"/>
<text x="139.50" y="2041.10" font-size="26.60" fill="#000" stroke="#000" stroke-width="0.42" text-anchor="end">0.0</text>
<line x1="150.30" y1="1965.48" x2="155.30" y2="1965.48" stroke="#000" stroke-width="2.60"/>
<line x1="150.30" y1="1897.47" x2="159.30" y2="1897.47" stroke="#000" stroke-width="2.80"/>
<text x="139.50" y="1905.07" font-size="26.60" fill="#000" stroke="#000" stroke-width="0.42" text-anchor="end">0.1</text>
<line x1="150.30" y1="1829.45" x2="155.30" y2="1829.45" stroke="#000" stroke-width="2.60"/>
<line x1="150.30" y1="1761.43" x2="159.30" y2="1761.43" stroke="#000" stroke-width="2.80"/>
<text x="139.50" y="1769.03" font-size="26.60" fill="#000" stroke="#000" stroke-width="0.42" text-anchor="end">0.2</text>
<line x1="150.30" y1="1693.42" x2="155.30" y2="1693.42" stroke="#000" stroke-width="2.60"/>
<line x1="150.30" y1="1625.40" x2="159.30" y2="1625.40" stroke="#000" stroke-width="2.80"/>
<text x="139.50" y="1633.00" font-size="26.60" fill="#000" stroke="#000" stroke-width="0.42" text-anchor="end">0.3</text>
<line x1="209.60" y1="2033.50" x2="209.60" y2="2024.50" stroke="#000" stroke-width="2.80"/>
<line x1="449.60" y1="2033.50" x2="449.60" y2="2024.50" stroke="#000" stroke-width="2.80"/>
<line x1="690.30" y1="2033.50" x2="690.30" y2="2024.50" stroke="#000" stroke-width="2.80"/>
<line x1="930.40" y1="2033.50" x2="930.40" y2="2024.50" stroke="#000" stroke-width="2.80"/>
<rect x="188.20" y="1658.41" width="42.80" height="42.80" fill="#c9b0b6" rx="2.50" />
<circle cx="449.60" cy="1747.83" r="24.3" fill="#adc0cf"/>
<polygon points="690.30,1797.85 663.00,1845.75 717.60,1845.75" fill="#969fb1" stroke="#969fb1" stroke-width="2.4" stroke-linejoin="round"/>
<polygon points="930.40,1829.86 956.36,1848.72 946.45,1879.24 914.35,1879.24 904.44,1848.72" fill="#ae636c" stroke="#ae636c" stroke-width="2.4" stroke-linejoin="round"/>
<text x="173.89" y="1731.10" font-size="33.20" fill="#c9b0b6" stroke="#c9b0b6" stroke-width="0.50">0.26</text>
<text x="414.92" y="1801.40" font-size="32.41" fill="#adc0cf" stroke="#adc0cf" stroke-width="0.49">0.21</text>
<text x="653.66" y="1877.00" font-size="33.80" fill="#969fb1" stroke="#969fb1" stroke-width="0.51">0.15</text>
<text x="897.26" y="1910.70" font-size="33.89" fill="#ae636c" stroke="#ae636c" stroke-width="0.51">0.13</text>
<text x="420.60" y="1678.00" font-size="47.87" fill="#000" stroke="#000" stroke-width="0.67">LiCl 10<tspan dy="-14.84" font-size="29.68">-1</tspan><tspan dy="14.84"> M</tspan></text>
<text x="142.75" y="2061.60" font-size="27.42" fill="#000" stroke="#000" stroke-width="0.43">273.15 K</text>
<text x="385.95" y="2061.60" font-size="27.42" fill="#000" stroke="#000" stroke-width="0.43">293.15 K</text>
<text x="624.47" y="2061.60" font-size="27.34" fill="#000" stroke="#000" stroke-width="0.43">313.15 K</text>
<text x="867.57" y="2061.60" font-size="27.34" fill="#000" stroke="#000" stroke-width="0.43">333.15 K</text>
<text x="596.00" y="2087.40" font-size="33.00" fill="#000" stroke="#000" stroke-width="0.50" text-anchor="middle">T<tspan dy="9.24" font-size="22.01">K</tspan><tspan dy="-9.24"> (K)</tspan></text>
<text x="89.60" y="1829.00" font-size="33.60" fill="#000" stroke="#000" stroke-width="0.50" text-anchor="middle" transform="rotate(-90 89.60 1829.00)">Triboelectric charge (nC)</text>
</g>
<g>
<text x="1021.92" y="1639.00" font-size="39.50" fill="#000" stroke="#000" stroke-width="0.57">j</text>
<rect x="1137.50" y="1625.40" width="840.80" height="408.10" fill="#fff" stroke="#000" stroke-width="3.40" />
<line x1="1137.50" y1="2033.50" x2="1146.50" y2="2033.50" stroke="#000" stroke-width="2.80"/>
<text x="1127.10" y="2041.10" font-size="26.60" fill="#000" stroke="#000" stroke-width="0.42" text-anchor="end">-0.2</text>
<line x1="1137.50" y1="1982.49" x2="1142.50" y2="1982.49" stroke="#000" stroke-width="2.60"/>
<line x1="1137.50" y1="1931.47" x2="1146.50" y2="1931.47" stroke="#000" stroke-width="2.80"/>
<text x="1127.10" y="1939.07" font-size="26.60" fill="#000" stroke="#000" stroke-width="0.42" text-anchor="end">-0.1</text>
<line x1="1137.50" y1="1880.46" x2="1142.50" y2="1880.46" stroke="#000" stroke-width="2.60"/>
<line x1="1137.50" y1="1829.45" x2="1146.50" y2="1829.45" stroke="#000" stroke-width="2.80"/>
<text x="1127.10" y="1837.05" font-size="26.60" fill="#000" stroke="#000" stroke-width="0.42" text-anchor="end">0.0</text>
<line x1="1137.50" y1="1778.44" x2="1142.50" y2="1778.44" stroke="#000" stroke-width="2.60"/>
<line x1="1137.50" y1="1727.43" x2="1146.50" y2="1727.43" stroke="#000" stroke-width="2.80"/>
<text x="1127.10" y="1735.03" font-size="26.60" fill="#000" stroke="#000" stroke-width="0.42" text-anchor="end">0.1</text>
<line x1="1137.50" y1="1676.41" x2="1142.50" y2="1676.41" stroke="#000" stroke-width="2.60"/>
<line x1="1137.50" y1="1625.40" x2="1146.50" y2="1625.40" stroke="#000" stroke-width="2.80"/>
<text x="1127.10" y="1633.00" font-size="26.60" fill="#000" stroke="#000" stroke-width="0.42" text-anchor="end">0.2</text>
<line x1="1197.20" y1="2033.50" x2="1197.20" y2="2024.50" stroke="#000" stroke-width="2.80"/>
<line x1="1317.30" y1="2033.50" x2="1317.30" y2="2028.50" stroke="#000" stroke-width="2.60"/>
<line x1="1437.30" y1="2033.50" x2="1437.30" y2="2024.50" stroke="#000" stroke-width="2.80"/>
<line x1="1557.40" y1="2033.50" x2="1557.40" y2="2028.50" stroke="#000" stroke-width="2.60"/>
<line x1="1677.60" y1="2033.50" x2="1677.60" y2="2024.50" stroke="#000" stroke-width="2.80"/>
<line x1="1797.70" y1="2033.50" x2="1797.70" y2="2028.50" stroke="#000" stroke-width="2.60"/>
<line x1="1918.00" y1="2033.50" x2="1918.00" y2="2024.50" stroke="#000" stroke-width="2.80"/>
<line x1="1136.80" y1="1829.45" x2="1978.30" y2="1829.45" stroke="#000" stroke-width="3.20" stroke-dasharray="16.4 15.0"/>
<rect x="1175.80" y="1879.47" width="42.80" height="42.80" fill="#c9b0b6" rx="2.50" />
<circle cx="1437.30" cy="1890.66" r="24.3" fill="#adc0cf"/>
<polygon points="1677.60,1736.64 1650.30,1784.54 1704.90,1784.54" fill="#969fb1" stroke="#969fb1" stroke-width="2.4" stroke-linejoin="round"/>
<polygon points="1918.00,1721.03 1943.96,1739.89 1934.05,1770.42 1901.95,1770.42 1892.04,1739.89" fill="#ae636c" stroke="#ae636c" stroke-width="2.4" stroke-linejoin="round"/>
<text x="1155.21" y="1959.70" font-size="32.92" fill="#c9b0b6" stroke="#c9b0b6" stroke-width="0.50">-0.07</text>
<text x="1396.39" y="1948.00" font-size="33.44" fill="#adc0cf" stroke="#adc0cf" stroke-width="0.50">-0.06</text>
<text x="1642.96" y="1818.50" font-size="33.84" fill="#969fb1" stroke="#969fb1" stroke-width="0.51">0.06</text>
<text x="1883.97" y="1802.50" font-size="33.74" fill="#ae636c" stroke="#ae636c" stroke-width="0.50">0.08</text>
<text x="1402.70" y="1682.30" font-size="47.89" fill="#000" stroke="#000" stroke-width="0.67">Li[TFSI] 10<tspan dy="-14.85" font-size="29.69">-1</tspan><tspan dy="14.85"> M</tspan></text>
<text x="1136.95" y="2061.60" font-size="27.42" fill="#000" stroke="#000" stroke-width="0.43">273.15 K</text>
<text x="1379.95" y="2061.60" font-size="27.42" fill="#000" stroke="#000" stroke-width="0.43">293.15 K</text>
<text x="1618.27" y="2061.60" font-size="27.34" fill="#000" stroke="#000" stroke-width="0.43">313.15 K</text>
<text x="1861.77" y="2061.60" font-size="27.34" fill="#000" stroke="#000" stroke-width="0.43">333.15 K</text>
<text x="1557.00" y="2087.40" font-size="33.00" fill="#000" stroke="#000" stroke-width="0.50" text-anchor="middle">T<tspan dy="9.24" font-size="22.01">K</tspan><tspan dy="-9.24"> (K)</tspan></text>
<text x="1067.80" y="1829.00" font-size="33.60" fill="#000" stroke="#000" stroke-width="0.50" text-anchor="middle" transform="rotate(-90 1067.80 1829.00)">Triboelectric Charge (nC)</text>
</g>
</g>
</svg></body></html>
